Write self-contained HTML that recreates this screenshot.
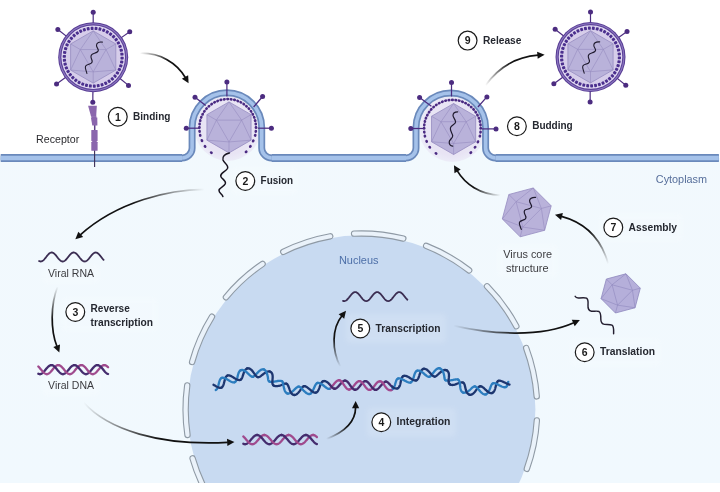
<!DOCTYPE html><html><head><meta charset="utf-8"><style>html,body{margin:0;padding:0;background:#fff;}svg{display:block;will-change:transform;}text{font-family:"Liberation Sans",sans-serif;}</style></head><body><svg width="720" height="492" viewBox="0 0 720 492" font-family="Liberation Sans, sans-serif">
<defs><linearGradient id="cyto" x1="0" y1="0" x2="0" y2="1"><stop offset="0" stop-color="#f2f9fd"/><stop offset="1" stop-color="#f1f9fe"/></linearGradient><radialGradient id="glow"><stop offset="0.8" stop-color="#e8e4f4"/><stop offset="1" stop-color="#e8e4f4" stop-opacity="0.6"/></radialGradient><clipPath id="clipm"><rect x="0.8" y="0" width="718" height="483"/></clipPath><clipPath id="clipb"><rect x="0" y="0" width="720" height="483"/></clipPath></defs>
<rect width="720" height="492" fill="#fff"/>
<path d="M -10,158 H 182.1 A 10 10 0 0 0 192.1,148 V 127.6 A 34.8 34.8 0 0 1 261.7,127.6 V 148 A 10 10 0 0 0 271.7,158 H 406 A 10 10 0 0 0 416,148 V 127.8 A 34.8 34.8 0 0 1 485.6,127.8 V 148 A 10 10 0 0 0 495.6,158 H 730 V 483 H -10 Z" fill="url(#cyto)"/>
<g clip-path="url(#clipb)">
<circle cx="361.4" cy="409.3" r="174" fill="#c8daf1"/>
<path d="M536.85,420.34 A175.8,175.8 0 0 1 526.81,468.85" fill="none" stroke="#8f9aa5" stroke-width="6.4" stroke-linecap="round"/>
<path d="M536.85,420.34 A175.8,175.8 0 0 1 526.81,468.85" fill="none" stroke="#eaf2fa" stroke-width="4.2" stroke-linecap="round"/>
<path d="M526.17,348.02 A175.8,175.8 0 0 1 536.73,396.42" fill="none" stroke="#8f9aa5" stroke-width="6.4" stroke-linecap="round"/>
<path d="M526.17,348.02 A175.8,175.8 0 0 1 536.73,396.42" fill="none" stroke="#eaf2fa" stroke-width="4.2" stroke-linecap="round"/>
<path d="M487,286.3 A175.8,175.8 0 0 1 516.33,326.23" fill="none" stroke="#8f9aa5" stroke-width="6.4" stroke-linecap="round"/>
<path d="M487,286.3 A175.8,175.8 0 0 1 516.33,326.23" fill="none" stroke="#eaf2fa" stroke-width="4.2" stroke-linecap="round"/>
<path d="M426.12,245.85 A175.8,175.8 0 0 1 469.15,270.39" fill="none" stroke="#8f9aa5" stroke-width="6.4" stroke-linecap="round"/>
<path d="M426.12,245.85 A175.8,175.8 0 0 1 469.15,270.39" fill="none" stroke="#eaf2fa" stroke-width="4.2" stroke-linecap="round"/>
<path d="M354.04,233.65 A175.8,175.8 0 0 1 403.33,238.57" fill="none" stroke="#8f9aa5" stroke-width="6.4" stroke-linecap="round"/>
<path d="M354.04,233.65 A175.8,175.8 0 0 1 403.33,238.57" fill="none" stroke="#eaf2fa" stroke-width="4.2" stroke-linecap="round"/>
<path d="M283.23,251.83 A175.8,175.8 0 0 1 330.27,236.28" fill="none" stroke="#8f9aa5" stroke-width="6.4" stroke-linecap="round"/>
<path d="M283.23,251.83 A175.8,175.8 0 0 1 330.27,236.28" fill="none" stroke="#eaf2fa" stroke-width="4.2" stroke-linecap="round"/>
<path d="M225.94,297.24 A175.8,175.8 0 0 1 262.59,263.9" fill="none" stroke="#8f9aa5" stroke-width="6.4" stroke-linecap="round"/>
<path d="M225.94,297.24 A175.8,175.8 0 0 1 262.59,263.9" fill="none" stroke="#eaf2fa" stroke-width="4.2" stroke-linecap="round"/>
<path d="M192.08,362.02 A175.8,175.8 0 0 1 211.99,316.66" fill="none" stroke="#8f9aa5" stroke-width="6.4" stroke-linecap="round"/>
<path d="M192.08,362.02 A175.8,175.8 0 0 1 211.99,316.66" fill="none" stroke="#eaf2fa" stroke-width="4.2" stroke-linecap="round"/>
<path d="M187.49,434.98 A175.8,175.8 0 0 1 187.23,385.44" fill="none" stroke="#8f9aa5" stroke-width="6.4" stroke-linecap="round"/>
<path d="M187.49,434.98 A175.8,175.8 0 0 1 187.23,385.44" fill="none" stroke="#eaf2fa" stroke-width="4.2" stroke-linecap="round"/>
<path d="M212.97,503.5 A175.8,175.8 0 0 1 192.58,458.35" fill="none" stroke="#8f9aa5" stroke-width="6.4" stroke-linecap="round"/>
<path d="M212.97,503.5 A175.8,175.8 0 0 1 192.58,458.35" fill="none" stroke="#eaf2fa" stroke-width="4.2" stroke-linecap="round"/>
</g>
<circle cx="227.8" cy="127.4" r="33.5" fill="url(#glow)"/>
<circle cx="452.4" cy="128.4" r="33.5" fill="url(#glow)"/>
<g clip-path="url(#clipm)">
<path d="M -10,158 H 182.1 A 10 10 0 0 0 192.1,148 V 127.6 A 34.8 34.8 0 0 1 261.7,127.6 V 148 A 10 10 0 0 0 271.7,158 H 406 A 10 10 0 0 0 416,148 V 127.8 A 34.8 34.8 0 0 1 485.6,127.8 V 148 A 10 10 0 0 0 495.6,158 H 730" fill="none" stroke="#6a89bb" stroke-width="7"/>
<path d="M -10,158 H 182.1 A 10 10 0 0 0 192.1,148 V 127.6 A 34.8 34.8 0 0 1 261.7,127.6 V 148 A 10 10 0 0 0 271.7,158 H 406 A 10 10 0 0 0 416,148 V 127.8 A 34.8 34.8 0 0 1 485.6,127.8 V 148 A 10 10 0 0 0 495.6,158 H 730" fill="none" stroke="#a5c2ea" stroke-width="3.6"/>
<path d="M -10,158 H 182.1 M 271.7,158 H 406 M 495.6,158 H 730" fill="none" stroke="#6a89bb" stroke-width="8.2"/>
<path d="M -10,158 H 182.1 M 271.7,158 H 406 M 495.6,158 H 730" fill="none" stroke="#a5c2ea" stroke-width="4.6"/>
</g>
<line x1="94.6" y1="149" x2="94.6" y2="167" stroke="#3a2d55" stroke-width="1.1"/>
<line x1="94.7" y1="125" x2="94.7" y2="131" stroke="#5b3f86" stroke-width="1.5"/>
<g fill="#8a66ad">
<path d="M88.1,105.8 L96.8,105.8 L96.2,116.8 L91.1,116.8 Z"/>
<path d="M90.9,117.6 L97.3,117.6 L97.4,125.6 L92.3,125.6 Z"/>
<rect x="91.6" y="116.3" width="4.8" height="1.8"/>
<rect x="91.3" y="130" width="6.3" height="11" rx="0.6"/>
<rect x="91.3" y="141.7" width="6.3" height="9.1" rx="0.6"/>
<rect x="92.2" y="140.5" width="4.5" height="2.2"/>
</g>
<line x1="93.2" y1="24.3" x2="93.2" y2="12.3" stroke="#4c2c80" stroke-width="1.2"/><circle cx="93.2" cy="12.3" r="2.5" fill="#4c2c80"/><line x1="120.23" y1="38.37" x2="129.73" y2="31.72" stroke="#4c2c80" stroke-width="1.2"/><circle cx="129.73" cy="31.72" r="2.5" fill="#4c2c80"/><line x1="119.03" y1="77.84" x2="128.5" y2="85.38" stroke="#4c2c80" stroke-width="1.2"/><circle cx="128.5" cy="85.38" r="2.5" fill="#4c2c80"/><line x1="92.91" y1="90.3" x2="92.81" y2="102.2" stroke="#4c2c80" stroke-width="1.2"/><circle cx="92.81" cy="102.2" r="2.5" fill="#4c2c80"/><line x1="66.5" y1="76.7" x2="56.55" y2="83.93" stroke="#4c2c80" stroke-width="1.2"/><circle cx="56.55" cy="83.93" r="2.5" fill="#4c2c80"/><line x1="67.27" y1="36.89" x2="57.84" y2="29.47" stroke="#4c2c80" stroke-width="1.2"/><circle cx="57.84" cy="29.47" r="2.5" fill="#4c2c80"/><circle cx="93.2" cy="57.2" r="35" fill="#573b94"/><circle cx="93.2" cy="57.2" r="34" fill="#8c78c0"/><circle cx="93.2" cy="57.2" r="32.9" fill="#5c4198"/><circle cx="93.2" cy="57.2" r="31.8" fill="#e2daf3"/><circle cx="93.2" cy="57.2" r="30.4" fill="#d6cdea"/><rect x="120.49" y="56.67" width="3.2" height="2.8" rx="0.7" fill="#4b2f8e" transform="rotate(1.72 122.09 58.07)"/><rect x="120.1" y="60.59" width="3.2" height="2.8" rx="0.7" fill="#4b2f8e" transform="rotate(9.54 121.7 61.99)"/><rect x="119.18" y="64.43" width="3.2" height="2.8" rx="0.7" fill="#4b2f8e" transform="rotate(17.37 120.78 65.83)"/><rect x="117.75" y="68.1" width="3.2" height="2.8" rx="0.7" fill="#4b2f8e" transform="rotate(25.2 119.35 69.5)"/><rect x="115.83" y="71.55" width="3.2" height="2.8" rx="0.7" fill="#4b2f8e" transform="rotate(33.02 117.43 72.95)"/><rect x="113.46" y="74.7" width="3.2" height="2.8" rx="0.7" fill="#4b2f8e" transform="rotate(40.85 115.06 76.1)"/><rect x="110.68" y="77.5" width="3.2" height="2.8" rx="0.7" fill="#4b2f8e" transform="rotate(48.68 112.28 78.9)"/><rect x="107.55" y="79.9" width="3.2" height="2.8" rx="0.7" fill="#4b2f8e" transform="rotate(56.5 109.15 81.3)"/><rect x="104.12" y="81.85" width="3.2" height="2.8" rx="0.7" fill="#4b2f8e" transform="rotate(64.33 105.72 83.25)"/><rect x="100.46" y="83.31" width="3.2" height="2.8" rx="0.7" fill="#4b2f8e" transform="rotate(72.15 102.06 84.71)"/><rect x="96.63" y="84.26" width="3.2" height="2.8" rx="0.7" fill="#4b2f8e" transform="rotate(79.98 98.23 85.66)"/><rect x="92.71" y="84.68" width="3.2" height="2.8" rx="0.7" fill="#4b2f8e" transform="rotate(87.81 94.31 86.08)"/><rect x="88.76" y="84.56" width="3.2" height="2.8" rx="0.7" fill="#4b2f8e" transform="rotate(95.63 90.36 85.96)"/><rect x="84.87" y="83.91" width="3.2" height="2.8" rx="0.7" fill="#4b2f8e" transform="rotate(103.46 86.47 85.31)"/><rect x="81.11" y="82.73" width="3.2" height="2.8" rx="0.7" fill="#4b2f8e" transform="rotate(111.28 82.71 84.13)"/><rect x="77.54" y="81.05" width="3.2" height="2.8" rx="0.7" fill="#4b2f8e" transform="rotate(119.11 79.14 82.45)"/><rect x="74.23" y="78.9" width="3.2" height="2.8" rx="0.7" fill="#4b2f8e" transform="rotate(126.94 75.83 80.3)"/><rect x="71.25" y="76.32" width="3.2" height="2.8" rx="0.7" fill="#4b2f8e" transform="rotate(134.76 72.85 77.72)"/><rect x="68.64" y="73.36" width="3.2" height="2.8" rx="0.7" fill="#4b2f8e" transform="rotate(142.59 70.24 74.76)"/><rect x="66.47" y="70.07" width="3.2" height="2.8" rx="0.7" fill="#4b2f8e" transform="rotate(150.41 68.07 71.47)"/><rect x="64.76" y="66.51" width="3.2" height="2.8" rx="0.7" fill="#4b2f8e" transform="rotate(158.24 66.36 67.91)"/><rect x="63.55" y="62.76" width="3.2" height="2.8" rx="0.7" fill="#4b2f8e" transform="rotate(166.07 65.15 64.16)"/><rect x="62.86" y="58.87" width="3.2" height="2.8" rx="0.7" fill="#4b2f8e" transform="rotate(173.89 64.46 60.27)"/><rect x="62.71" y="54.93" width="3.2" height="2.8" rx="0.7" fill="#4b2f8e" transform="rotate(181.72 64.31 56.33)"/><rect x="63.1" y="51.01" width="3.2" height="2.8" rx="0.7" fill="#4b2f8e" transform="rotate(189.54 64.7 52.41)"/><rect x="64.02" y="47.17" width="3.2" height="2.8" rx="0.7" fill="#4b2f8e" transform="rotate(197.37 65.62 48.57)"/><rect x="65.45" y="43.5" width="3.2" height="2.8" rx="0.7" fill="#4b2f8e" transform="rotate(205.2 67.05 44.9)"/><rect x="67.37" y="40.05" width="3.2" height="2.8" rx="0.7" fill="#4b2f8e" transform="rotate(213.02 68.97 41.45)"/><rect x="69.74" y="36.9" width="3.2" height="2.8" rx="0.7" fill="#4b2f8e" transform="rotate(220.85 71.34 38.3)"/><rect x="72.52" y="34.1" width="3.2" height="2.8" rx="0.7" fill="#4b2f8e" transform="rotate(228.68 74.12 35.5)"/><rect x="75.65" y="31.7" width="3.2" height="2.8" rx="0.7" fill="#4b2f8e" transform="rotate(236.5 77.25 33.1)"/><rect x="79.08" y="29.75" width="3.2" height="2.8" rx="0.7" fill="#4b2f8e" transform="rotate(244.33 80.68 31.15)"/><rect x="82.74" y="28.29" width="3.2" height="2.8" rx="0.7" fill="#4b2f8e" transform="rotate(252.15 84.34 29.69)"/><rect x="86.57" y="27.34" width="3.2" height="2.8" rx="0.7" fill="#4b2f8e" transform="rotate(259.98 88.17 28.74)"/><rect x="90.49" y="26.92" width="3.2" height="2.8" rx="0.7" fill="#4b2f8e" transform="rotate(267.81 92.09 28.32)"/><rect x="94.44" y="27.04" width="3.2" height="2.8" rx="0.7" fill="#4b2f8e" transform="rotate(275.63 96.04 28.44)"/><rect x="98.33" y="27.69" width="3.2" height="2.8" rx="0.7" fill="#4b2f8e" transform="rotate(283.46 99.93 29.09)"/><rect x="102.09" y="28.87" width="3.2" height="2.8" rx="0.7" fill="#4b2f8e" transform="rotate(291.28 103.69 30.27)"/><rect x="105.66" y="30.55" width="3.2" height="2.8" rx="0.7" fill="#4b2f8e" transform="rotate(299.11 107.26 31.95)"/><rect x="108.97" y="32.7" width="3.2" height="2.8" rx="0.7" fill="#4b2f8e" transform="rotate(306.94 110.57 34.1)"/><rect x="111.95" y="35.28" width="3.2" height="2.8" rx="0.7" fill="#4b2f8e" transform="rotate(314.76 113.55 36.68)"/><rect x="114.56" y="38.24" width="3.2" height="2.8" rx="0.7" fill="#4b2f8e" transform="rotate(322.59 116.16 39.64)"/><rect x="116.73" y="41.53" width="3.2" height="2.8" rx="0.7" fill="#4b2f8e" transform="rotate(330.41 118.33 42.93)"/><rect x="118.44" y="45.09" width="3.2" height="2.8" rx="0.7" fill="#4b2f8e" transform="rotate(338.24 120.04 46.49)"/><rect x="119.65" y="48.84" width="3.2" height="2.8" rx="0.7" fill="#4b2f8e" transform="rotate(346.07 121.25 50.24)"/><rect x="120.34" y="52.73" width="3.2" height="2.8" rx="0.7" fill="#4b2f8e" transform="rotate(353.89 121.94 54.13)"/><polygon points="93.2,30.9 115.8,43.95 115.8,70.05 93.2,83.1 70.6,70.05 70.6,43.95" fill="#b9b2da" stroke="#968bc0" stroke-width="0.8" stroke-linejoin="round"/><path d="M106.08,49.56 L93.2,71.88 L80.32,49.56 Z M106.08,49.56 L93.2,30.9 M106.08,49.56 L115.8,43.95 M106.08,49.56 L115.8,70.05 M93.2,71.88 L115.8,70.05 M93.2,71.88 L93.2,83.1 M93.2,71.88 L70.6,70.05 M80.32,49.56 L70.6,70.05 M80.32,49.56 L70.6,43.95 M80.32,49.56 L93.2,30.9 " fill="none" stroke="#968bc0" stroke-width="0.6"/><path transform="translate(93.2,57.2) rotate(0)" d="M9.2,-15.1 C6.3,-15.4 3.6,-14.4 3.3,-11.9 C3.1,-9.7 5.4,-8.4 5.1,-6.6 C4.8,-4.6 1.3,-4.2 -0.6,-3.3 C-2.4,-2.4 -2.4,0 -1.7,1.8 C-1,3.6 0,4.8 -2.2,6.2 C-3.7,7.2 -6.7,7.1 -7.7,9 C-8.5,10.8 -6.9,13.3 -6.3,16.2" fill="none" stroke="#1f1a2e" stroke-width="1.1" stroke-linecap="round"/>
<line x1="590.5" y1="24.1" x2="590.5" y2="12.1" stroke="#4c2c80" stroke-width="1.2"/><circle cx="590.5" cy="12.1" r="2.5" fill="#4c2c80"/><line x1="617.53" y1="38.17" x2="627.03" y2="31.52" stroke="#4c2c80" stroke-width="1.2"/><circle cx="627.03" cy="31.52" r="2.5" fill="#4c2c80"/><line x1="616.33" y1="77.64" x2="625.8" y2="85.18" stroke="#4c2c80" stroke-width="1.2"/><circle cx="625.8" cy="85.18" r="2.5" fill="#4c2c80"/><line x1="590.21" y1="90.1" x2="590.11" y2="102" stroke="#4c2c80" stroke-width="1.2"/><circle cx="590.11" cy="102" r="2.5" fill="#4c2c80"/><line x1="563.8" y1="76.5" x2="553.85" y2="83.73" stroke="#4c2c80" stroke-width="1.2"/><circle cx="553.85" cy="83.73" r="2.5" fill="#4c2c80"/><line x1="564.57" y1="36.69" x2="555.14" y2="29.27" stroke="#4c2c80" stroke-width="1.2"/><circle cx="555.14" cy="29.27" r="2.5" fill="#4c2c80"/><circle cx="590.5" cy="57" r="35" fill="#573b94"/><circle cx="590.5" cy="57" r="34" fill="#8c78c0"/><circle cx="590.5" cy="57" r="32.9" fill="#5c4198"/><circle cx="590.5" cy="57" r="31.8" fill="#e2daf3"/><circle cx="590.5" cy="57" r="30.4" fill="#d6cdea"/><rect x="617.79" y="56.47" width="3.2" height="2.8" rx="0.7" fill="#4b2f8e" transform="rotate(1.72 619.39 57.87)"/><rect x="617.4" y="60.39" width="3.2" height="2.8" rx="0.7" fill="#4b2f8e" transform="rotate(9.54 619 61.79)"/><rect x="616.48" y="64.23" width="3.2" height="2.8" rx="0.7" fill="#4b2f8e" transform="rotate(17.37 618.08 65.63)"/><rect x="615.05" y="67.9" width="3.2" height="2.8" rx="0.7" fill="#4b2f8e" transform="rotate(25.2 616.65 69.3)"/><rect x="613.13" y="71.35" width="3.2" height="2.8" rx="0.7" fill="#4b2f8e" transform="rotate(33.02 614.73 72.75)"/><rect x="610.76" y="74.5" width="3.2" height="2.8" rx="0.7" fill="#4b2f8e" transform="rotate(40.85 612.36 75.9)"/><rect x="607.98" y="77.3" width="3.2" height="2.8" rx="0.7" fill="#4b2f8e" transform="rotate(48.68 609.58 78.7)"/><rect x="604.85" y="79.7" width="3.2" height="2.8" rx="0.7" fill="#4b2f8e" transform="rotate(56.5 606.45 81.1)"/><rect x="601.42" y="81.65" width="3.2" height="2.8" rx="0.7" fill="#4b2f8e" transform="rotate(64.33 603.02 83.05)"/><rect x="597.76" y="83.11" width="3.2" height="2.8" rx="0.7" fill="#4b2f8e" transform="rotate(72.15 599.36 84.51)"/><rect x="593.93" y="84.06" width="3.2" height="2.8" rx="0.7" fill="#4b2f8e" transform="rotate(79.98 595.53 85.46)"/><rect x="590.01" y="84.48" width="3.2" height="2.8" rx="0.7" fill="#4b2f8e" transform="rotate(87.81 591.61 85.88)"/><rect x="586.06" y="84.36" width="3.2" height="2.8" rx="0.7" fill="#4b2f8e" transform="rotate(95.63 587.66 85.76)"/><rect x="582.17" y="83.71" width="3.2" height="2.8" rx="0.7" fill="#4b2f8e" transform="rotate(103.46 583.77 85.11)"/><rect x="578.41" y="82.53" width="3.2" height="2.8" rx="0.7" fill="#4b2f8e" transform="rotate(111.28 580.01 83.93)"/><rect x="574.84" y="80.85" width="3.2" height="2.8" rx="0.7" fill="#4b2f8e" transform="rotate(119.11 576.44 82.25)"/><rect x="571.53" y="78.7" width="3.2" height="2.8" rx="0.7" fill="#4b2f8e" transform="rotate(126.94 573.13 80.1)"/><rect x="568.55" y="76.12" width="3.2" height="2.8" rx="0.7" fill="#4b2f8e" transform="rotate(134.76 570.15 77.52)"/><rect x="565.94" y="73.16" width="3.2" height="2.8" rx="0.7" fill="#4b2f8e" transform="rotate(142.59 567.54 74.56)"/><rect x="563.77" y="69.87" width="3.2" height="2.8" rx="0.7" fill="#4b2f8e" transform="rotate(150.41 565.37 71.27)"/><rect x="562.06" y="66.31" width="3.2" height="2.8" rx="0.7" fill="#4b2f8e" transform="rotate(158.24 563.66 67.71)"/><rect x="560.85" y="62.56" width="3.2" height="2.8" rx="0.7" fill="#4b2f8e" transform="rotate(166.07 562.45 63.96)"/><rect x="560.16" y="58.67" width="3.2" height="2.8" rx="0.7" fill="#4b2f8e" transform="rotate(173.89 561.76 60.07)"/><rect x="560.01" y="54.73" width="3.2" height="2.8" rx="0.7" fill="#4b2f8e" transform="rotate(181.72 561.61 56.13)"/><rect x="560.4" y="50.81" width="3.2" height="2.8" rx="0.7" fill="#4b2f8e" transform="rotate(189.54 562 52.21)"/><rect x="561.32" y="46.97" width="3.2" height="2.8" rx="0.7" fill="#4b2f8e" transform="rotate(197.37 562.92 48.37)"/><rect x="562.75" y="43.3" width="3.2" height="2.8" rx="0.7" fill="#4b2f8e" transform="rotate(205.2 564.35 44.7)"/><rect x="564.67" y="39.85" width="3.2" height="2.8" rx="0.7" fill="#4b2f8e" transform="rotate(213.02 566.27 41.25)"/><rect x="567.04" y="36.7" width="3.2" height="2.8" rx="0.7" fill="#4b2f8e" transform="rotate(220.85 568.64 38.1)"/><rect x="569.82" y="33.9" width="3.2" height="2.8" rx="0.7" fill="#4b2f8e" transform="rotate(228.68 571.42 35.3)"/><rect x="572.95" y="31.5" width="3.2" height="2.8" rx="0.7" fill="#4b2f8e" transform="rotate(236.5 574.55 32.9)"/><rect x="576.38" y="29.55" width="3.2" height="2.8" rx="0.7" fill="#4b2f8e" transform="rotate(244.33 577.98 30.95)"/><rect x="580.04" y="28.09" width="3.2" height="2.8" rx="0.7" fill="#4b2f8e" transform="rotate(252.15 581.64 29.49)"/><rect x="583.87" y="27.14" width="3.2" height="2.8" rx="0.7" fill="#4b2f8e" transform="rotate(259.98 585.47 28.54)"/><rect x="587.79" y="26.72" width="3.2" height="2.8" rx="0.7" fill="#4b2f8e" transform="rotate(267.81 589.39 28.12)"/><rect x="591.74" y="26.84" width="3.2" height="2.8" rx="0.7" fill="#4b2f8e" transform="rotate(275.63 593.34 28.24)"/><rect x="595.63" y="27.49" width="3.2" height="2.8" rx="0.7" fill="#4b2f8e" transform="rotate(283.46 597.23 28.89)"/><rect x="599.39" y="28.67" width="3.2" height="2.8" rx="0.7" fill="#4b2f8e" transform="rotate(291.28 600.99 30.07)"/><rect x="602.96" y="30.35" width="3.2" height="2.8" rx="0.7" fill="#4b2f8e" transform="rotate(299.11 604.56 31.75)"/><rect x="606.27" y="32.5" width="3.2" height="2.8" rx="0.7" fill="#4b2f8e" transform="rotate(306.94 607.87 33.9)"/><rect x="609.25" y="35.08" width="3.2" height="2.8" rx="0.7" fill="#4b2f8e" transform="rotate(314.76 610.85 36.48)"/><rect x="611.86" y="38.04" width="3.2" height="2.8" rx="0.7" fill="#4b2f8e" transform="rotate(322.59 613.46 39.44)"/><rect x="614.03" y="41.33" width="3.2" height="2.8" rx="0.7" fill="#4b2f8e" transform="rotate(330.41 615.63 42.73)"/><rect x="615.74" y="44.89" width="3.2" height="2.8" rx="0.7" fill="#4b2f8e" transform="rotate(338.24 617.34 46.29)"/><rect x="616.95" y="48.64" width="3.2" height="2.8" rx="0.7" fill="#4b2f8e" transform="rotate(346.07 618.55 50.04)"/><rect x="617.64" y="52.53" width="3.2" height="2.8" rx="0.7" fill="#4b2f8e" transform="rotate(353.89 619.24 53.93)"/><polygon points="590.5,30.7 613.1,43.75 613.1,69.85 590.5,82.9 567.9,69.85 567.9,43.75" fill="#b9b2da" stroke="#968bc0" stroke-width="0.8" stroke-linejoin="round"/><path d="M603.38,49.36 L590.5,71.68 L577.62,49.36 Z M603.38,49.36 L590.5,30.7 M603.38,49.36 L613.1,43.75 M603.38,49.36 L613.1,69.85 M590.5,71.68 L613.1,69.85 M590.5,71.68 L590.5,82.9 M590.5,71.68 L567.9,69.85 M577.62,49.36 L567.9,69.85 M577.62,49.36 L567.9,43.75 M577.62,49.36 L590.5,30.7 " fill="none" stroke="#968bc0" stroke-width="0.6"/><path transform="translate(590.5,57) rotate(0)" d="M9.2,-15.1 C6.3,-15.4 3.6,-14.4 3.3,-11.9 C3.1,-9.7 5.4,-8.4 5.1,-6.6 C4.8,-4.6 1.3,-4.2 -0.6,-3.3 C-2.4,-2.4 -2.4,0 -1.7,1.8 C-1,3.6 0,4.8 -2.2,6.2 C-3.7,7.2 -6.7,7.1 -7.7,9 C-8.5,10.8 -6.9,13.3 -6.3,16.2" fill="none" stroke="#1f1a2e" stroke-width="1.1" stroke-linecap="round"/>
<line x1="226.9" y1="96.5" x2="226.9" y2="81.9" stroke="#4c2c80" stroke-width="1.25"/><circle cx="226.9" cy="81.9" r="2.5" fill="#4c2c80"/><line x1="205.7" y1="105.6" x2="195" y2="97.2" stroke="#4c2c80" stroke-width="1.25"/><circle cx="195" cy="97.2" r="2.5" fill="#4c2c80"/><line x1="253.6" y1="107" x2="262.6" y2="96.5" stroke="#4c2c80" stroke-width="1.25"/><circle cx="262.6" cy="96.5" r="2.5" fill="#4c2c80"/><line x1="199.4" y1="128.2" x2="186.25" y2="128.2" stroke="#4c2c80" stroke-width="1.25"/><circle cx="186.25" cy="128.2" r="2.5" fill="#4c2c80"/><line x1="257.8" y1="128.2" x2="271.4" y2="128.2" stroke="#4c2c80" stroke-width="1.25"/><circle cx="271.4" cy="128.2" r="2.5" fill="#4c2c80"/><ellipse cx="199.4" cy="127.4" rx="1.6" ry="1.35" fill="#4a2a82" transform="rotate(-90 199.4 127.4)"/><ellipse cx="199.61" cy="123.99" rx="1.6" ry="1.35" fill="#4a2a82" transform="rotate(-83.08 199.61 123.99)"/><ellipse cx="200.22" cy="120.63" rx="1.6" ry="1.35" fill="#4a2a82" transform="rotate(-76.15 200.22 120.63)"/><ellipse cx="201.24" cy="117.36" rx="1.6" ry="1.35" fill="#4a2a82" transform="rotate(-69.23 201.24 117.36)"/><ellipse cx="202.64" cy="114.25" rx="1.6" ry="1.35" fill="#4a2a82" transform="rotate(-62.31 202.64 114.25)"/><ellipse cx="204.41" cy="111.32" rx="1.6" ry="1.35" fill="#4a2a82" transform="rotate(-55.38 204.41 111.32)"/><ellipse cx="206.52" cy="108.63" rx="1.6" ry="1.35" fill="#4a2a82" transform="rotate(-48.46 206.52 108.63)"/><ellipse cx="208.93" cy="106.22" rx="1.6" ry="1.35" fill="#4a2a82" transform="rotate(-41.54 208.93 106.22)"/><ellipse cx="211.62" cy="104.11" rx="1.6" ry="1.35" fill="#4a2a82" transform="rotate(-34.62 211.62 104.11)"/><ellipse cx="214.55" cy="102.34" rx="1.6" ry="1.35" fill="#4a2a82" transform="rotate(-27.69 214.55 102.34)"/><ellipse cx="217.66" cy="100.94" rx="1.6" ry="1.35" fill="#4a2a82" transform="rotate(-20.77 217.66 100.94)"/><ellipse cx="220.93" cy="99.92" rx="1.6" ry="1.35" fill="#4a2a82" transform="rotate(-13.85 220.93 99.92)"/><ellipse cx="224.29" cy="99.31" rx="1.6" ry="1.35" fill="#4a2a82" transform="rotate(-6.92 224.29 99.31)"/><ellipse cx="227.7" cy="99.1" rx="1.6" ry="1.35" fill="#4a2a82" transform="rotate(0 227.7 99.1)"/><ellipse cx="231.11" cy="99.31" rx="1.6" ry="1.35" fill="#4a2a82" transform="rotate(6.92 231.11 99.31)"/><ellipse cx="234.47" cy="99.92" rx="1.6" ry="1.35" fill="#4a2a82" transform="rotate(13.85 234.47 99.92)"/><ellipse cx="237.74" cy="100.94" rx="1.6" ry="1.35" fill="#4a2a82" transform="rotate(20.77 237.74 100.94)"/><ellipse cx="240.85" cy="102.34" rx="1.6" ry="1.35" fill="#4a2a82" transform="rotate(27.69 240.85 102.34)"/><ellipse cx="243.78" cy="104.11" rx="1.6" ry="1.35" fill="#4a2a82" transform="rotate(34.62 243.78 104.11)"/><ellipse cx="246.47" cy="106.22" rx="1.6" ry="1.35" fill="#4a2a82" transform="rotate(41.54 246.47 106.22)"/><ellipse cx="248.88" cy="108.63" rx="1.6" ry="1.35" fill="#4a2a82" transform="rotate(48.46 248.88 108.63)"/><ellipse cx="250.99" cy="111.32" rx="1.6" ry="1.35" fill="#4a2a82" transform="rotate(55.38 250.99 111.32)"/><ellipse cx="252.76" cy="114.25" rx="1.6" ry="1.35" fill="#4a2a82" transform="rotate(62.31 252.76 114.25)"/><ellipse cx="254.16" cy="117.36" rx="1.6" ry="1.35" fill="#4a2a82" transform="rotate(69.23 254.16 117.36)"/><ellipse cx="255.18" cy="120.63" rx="1.6" ry="1.35" fill="#4a2a82" transform="rotate(76.15 255.18 120.63)"/><ellipse cx="255.79" cy="123.99" rx="1.6" ry="1.35" fill="#4a2a82" transform="rotate(83.08 255.79 123.99)"/><ellipse cx="256" cy="127.4" rx="1.6" ry="1.35" fill="#4a2a82" transform="rotate(90 256 127.4)"/><ellipse cx="255.82" cy="131.35" rx="1.6" ry="1.35" fill="#4a2a82" transform="rotate(98 255.82 131.35)"/><ellipse cx="255.19" cy="135.28" rx="1.6" ry="1.35" fill="#4a2a82" transform="rotate(106 255.19 135.28)"/><ellipse cx="253.22" cy="140.97" rx="1.6" ry="1.35" fill="#4a2a82" transform="rotate(118 253.22 140.97)"/><ellipse cx="250.37" cy="146.43" rx="1.6" ry="1.35" fill="#4a2a82" transform="rotate(130 250.37 146.43)"/><ellipse cx="246.12" cy="151.84" rx="1.6" ry="1.35" fill="#4a2a82" transform="rotate(143 246.12 151.84)"/><ellipse cx="199.58" cy="131.35" rx="1.6" ry="1.35" fill="#4a2a82" transform="rotate(262 199.58 131.35)"/><ellipse cx="200.21" cy="135.28" rx="1.6" ry="1.35" fill="#4a2a82" transform="rotate(254 200.21 135.28)"/><ellipse cx="201.95" cy="140.52" rx="1.6" ry="1.35" fill="#4a2a82" transform="rotate(243 201.95 140.52)"/><ellipse cx="205.03" cy="146.43" rx="1.6" ry="1.35" fill="#4a2a82" transform="rotate(230 205.03 146.43)"/><ellipse cx="211.31" cy="152.64" rx="1.6" ry="1.35" fill="#4a2a82" transform="rotate(213 211.31 152.64)"/><polygon points="229,101.9 251.08,114.65 251.08,140.15 229,152.9 206.92,140.15 206.92,114.65" fill="#b9b2da" stroke="#968bc0" stroke-width="0.8" stroke-linejoin="round"/><path d="M241.59,120.13 L229,141.94 L216.41,120.13 Z M241.59,120.13 L229,101.9 M241.59,120.13 L251.08,114.65 M241.59,120.13 L251.08,140.15 M229,141.94 L251.08,140.15 M229,141.94 L229,152.9 M229,141.94 L206.92,140.15 M216.41,120.13 L206.92,140.15 M216.41,120.13 L206.92,114.65 M216.41,120.13 L229,101.9 " fill="none" stroke="#968bc0" stroke-width="0.6"/>
<line x1="451.5" y1="96.5" x2="451.5" y2="82.6" stroke="#4c2c80" stroke-width="1.25"/><circle cx="451.5" cy="82.6" r="2.5" fill="#4c2c80"/><line x1="431.4" y1="106.25" x2="419.6" y2="97.5" stroke="#4c2c80" stroke-width="1.25"/><circle cx="419.6" cy="97.5" r="2.5" fill="#4c2c80"/><line x1="477.9" y1="107" x2="486.9" y2="96.9" stroke="#4c2c80" stroke-width="1.25"/><circle cx="486.9" cy="96.9" r="2.5" fill="#4c2c80"/><line x1="423.75" y1="128.5" x2="410.8" y2="128.5" stroke="#4c2c80" stroke-width="1.25"/><circle cx="410.8" cy="128.5" r="2.5" fill="#4c2c80"/><line x1="482.1" y1="128.9" x2="496" y2="128.9" stroke="#4c2c80" stroke-width="1.25"/><circle cx="496" cy="128.9" r="2.5" fill="#4c2c80"/><ellipse cx="424.1" cy="128.2" rx="1.6" ry="1.35" fill="#4a2a82" transform="rotate(-90 424.1 128.2)"/><ellipse cx="424.31" cy="124.79" rx="1.6" ry="1.35" fill="#4a2a82" transform="rotate(-83.08 424.31 124.79)"/><ellipse cx="424.92" cy="121.43" rx="1.6" ry="1.35" fill="#4a2a82" transform="rotate(-76.15 424.92 121.43)"/><ellipse cx="425.94" cy="118.16" rx="1.6" ry="1.35" fill="#4a2a82" transform="rotate(-69.23 425.94 118.16)"/><ellipse cx="427.34" cy="115.05" rx="1.6" ry="1.35" fill="#4a2a82" transform="rotate(-62.31 427.34 115.05)"/><ellipse cx="429.11" cy="112.12" rx="1.6" ry="1.35" fill="#4a2a82" transform="rotate(-55.38 429.11 112.12)"/><ellipse cx="431.22" cy="109.43" rx="1.6" ry="1.35" fill="#4a2a82" transform="rotate(-48.46 431.22 109.43)"/><ellipse cx="433.63" cy="107.02" rx="1.6" ry="1.35" fill="#4a2a82" transform="rotate(-41.54 433.63 107.02)"/><ellipse cx="436.32" cy="104.91" rx="1.6" ry="1.35" fill="#4a2a82" transform="rotate(-34.62 436.32 104.91)"/><ellipse cx="439.25" cy="103.14" rx="1.6" ry="1.35" fill="#4a2a82" transform="rotate(-27.69 439.25 103.14)"/><ellipse cx="442.36" cy="101.74" rx="1.6" ry="1.35" fill="#4a2a82" transform="rotate(-20.77 442.36 101.74)"/><ellipse cx="445.63" cy="100.72" rx="1.6" ry="1.35" fill="#4a2a82" transform="rotate(-13.85 445.63 100.72)"/><ellipse cx="448.99" cy="100.11" rx="1.6" ry="1.35" fill="#4a2a82" transform="rotate(-6.92 448.99 100.11)"/><ellipse cx="452.4" cy="99.9" rx="1.6" ry="1.35" fill="#4a2a82" transform="rotate(0 452.4 99.9)"/><ellipse cx="455.81" cy="100.11" rx="1.6" ry="1.35" fill="#4a2a82" transform="rotate(6.92 455.81 100.11)"/><ellipse cx="459.17" cy="100.72" rx="1.6" ry="1.35" fill="#4a2a82" transform="rotate(13.85 459.17 100.72)"/><ellipse cx="462.44" cy="101.74" rx="1.6" ry="1.35" fill="#4a2a82" transform="rotate(20.77 462.44 101.74)"/><ellipse cx="465.55" cy="103.14" rx="1.6" ry="1.35" fill="#4a2a82" transform="rotate(27.69 465.55 103.14)"/><ellipse cx="468.48" cy="104.91" rx="1.6" ry="1.35" fill="#4a2a82" transform="rotate(34.62 468.48 104.91)"/><ellipse cx="471.17" cy="107.02" rx="1.6" ry="1.35" fill="#4a2a82" transform="rotate(41.54 471.17 107.02)"/><ellipse cx="473.58" cy="109.43" rx="1.6" ry="1.35" fill="#4a2a82" transform="rotate(48.46 473.58 109.43)"/><ellipse cx="475.69" cy="112.12" rx="1.6" ry="1.35" fill="#4a2a82" transform="rotate(55.38 475.69 112.12)"/><ellipse cx="477.46" cy="115.05" rx="1.6" ry="1.35" fill="#4a2a82" transform="rotate(62.31 477.46 115.05)"/><ellipse cx="478.86" cy="118.16" rx="1.6" ry="1.35" fill="#4a2a82" transform="rotate(69.23 478.86 118.16)"/><ellipse cx="479.88" cy="121.43" rx="1.6" ry="1.35" fill="#4a2a82" transform="rotate(76.15 479.88 121.43)"/><ellipse cx="480.49" cy="124.79" rx="1.6" ry="1.35" fill="#4a2a82" transform="rotate(83.08 480.49 124.79)"/><ellipse cx="480.7" cy="128.2" rx="1.6" ry="1.35" fill="#4a2a82" transform="rotate(90 480.7 128.2)"/><ellipse cx="480.52" cy="132.15" rx="1.6" ry="1.35" fill="#4a2a82" transform="rotate(98 480.52 132.15)"/><ellipse cx="479.89" cy="136.08" rx="1.6" ry="1.35" fill="#4a2a82" transform="rotate(106 479.89 136.08)"/><ellipse cx="477.92" cy="141.77" rx="1.6" ry="1.35" fill="#4a2a82" transform="rotate(118 477.92 141.77)"/><ellipse cx="475.07" cy="147.23" rx="1.6" ry="1.35" fill="#4a2a82" transform="rotate(130 475.07 147.23)"/><ellipse cx="470.82" cy="152.64" rx="1.6" ry="1.35" fill="#4a2a82" transform="rotate(143 470.82 152.64)"/><ellipse cx="424.28" cy="132.15" rx="1.6" ry="1.35" fill="#4a2a82" transform="rotate(262 424.28 132.15)"/><ellipse cx="424.91" cy="136.08" rx="1.6" ry="1.35" fill="#4a2a82" transform="rotate(254 424.91 136.08)"/><ellipse cx="426.65" cy="141.32" rx="1.6" ry="1.35" fill="#4a2a82" transform="rotate(243 426.65 141.32)"/><ellipse cx="429.73" cy="147.23" rx="1.6" ry="1.35" fill="#4a2a82" transform="rotate(230 429.73 147.23)"/><ellipse cx="436.01" cy="153.44" rx="1.6" ry="1.35" fill="#4a2a82" transform="rotate(213 436.01 153.44)"/><polygon points="453.6,103.5 475.68,116.25 475.68,141.75 453.6,154.5 431.52,141.75 431.52,116.25" fill="#b9b2da" stroke="#968bc0" stroke-width="0.8" stroke-linejoin="round"/><path d="M466.19,121.73 L453.6,143.53 L441.01,121.73 Z M466.19,121.73 L453.6,103.5 M466.19,121.73 L475.68,116.25 M466.19,121.73 L475.68,141.75 M453.6,143.53 L475.68,141.75 M453.6,143.53 L453.6,154.5 M453.6,143.53 L431.52,141.75 M441.01,121.73 L431.52,141.75 M441.01,121.73 L431.52,116.25 M441.01,121.73 L453.6,103.5 " fill="none" stroke="#968bc0" stroke-width="0.6"/>
<path d="M229.4,153 C225,154 222,156.5 223,160 C224,163 229,165 227.5,168.5 C226,171.5 220.5,172.5 220.7,176 C221,179 226.5,180 225.3,183.8 C224,187 219,187.5 219,190.5 C219,193 222,194 222.9,196.5" fill="none" stroke="#17131f" stroke-width="1.5" stroke-linecap="round"/>
<path d="M457.7,111.8 C455.5,111.8 453,113 453,115.6 C453,117.5 455.6,119.5 455.6,122 C455.6,124.5 451,125 450.4,128 C449.8,131 452.7,133.5 452.7,136 C452.7,138.5 449.2,139.5 449.2,142 C449.2,144.5 451,146 452.7,146.2" fill="none" stroke="#1f1a2e" stroke-width="1.2" stroke-linecap="round"/>
<polygon points="533.3,187.96 551.19,205.85 544.64,230.29 520.2,236.84 502.31,218.95 508.86,194.51" fill="#b9b2da" stroke="#968bc0" stroke-width="0.8" stroke-linejoin="round"/><path d="M541.41,208.47 L522.82,227.06 L516.02,201.67 Z M541.41,208.47 L533.3,187.96 M541.41,208.47 L551.19,205.85 M541.41,208.47 L544.64,230.29 M522.82,227.06 L544.64,230.29 M522.82,227.06 L520.2,236.84 M522.82,227.06 L502.31,218.95 M516.02,201.67 L502.31,218.95 M516.02,201.67 L508.86,194.51 M516.02,201.67 L533.3,187.96 " fill="none" stroke="#968bc0" stroke-width="0.6"/>
<path d="M535.6,197.3 C533,197.2 530,198 529.6,200.5 C529.3,203 531.8,204.5 531.6,206.5 C531.4,208.8 527.5,209 525.5,209.8 C523.8,210.6 524.2,213 525,214.8 C525.8,216.5 527,217.8 525,219.2 C523.5,220.2 520.5,220.3 519.5,222.2 C518.7,224 520.3,226 521.3,229.4" fill="none" stroke="#1f1a2e" stroke-width="1.2" stroke-linecap="round"/>
<polygon points="625.95,273.79 640.31,288.15 635.05,307.75 615.45,313.01 601.09,298.65 606.35,279.05" fill="#b5afda" stroke="#8e88be" stroke-width="0.8" stroke-linejoin="round"/><path d="M632.46,290.25 L617.55,305.16 L612.09,284.79 Z M632.46,290.25 L625.95,273.79 M632.46,290.25 L640.31,288.15 M632.46,290.25 L635.05,307.75 M617.55,305.16 L635.05,307.75 M617.55,305.16 L615.45,313.01 M617.55,305.16 L601.09,298.65 M612.09,284.79 L601.09,298.65 M612.09,284.79 L606.35,279.05 M612.09,284.79 L625.95,273.79 " fill="none" stroke="#8e88be" stroke-width="0.6"/>
<path d="M575.1,296.3 C575.8,297.8 577,298.2 579,298 C581.5,297.7 584.5,297.2 586.5,298.2 C588.5,299.5 588.2,302.5 588,305 C587.8,308 588.5,310.8 591.5,311.2 C594,311.5 597,310.6 599,311.5 C601,312.8 600.8,316 600.8,319 C600.8,322 601.5,324 604.5,324.4 C607,324.7 610,324.2 612,325.2 C614,326.4 613.8,329 613.6,333.7" fill="none" stroke="#241f30" stroke-width="1.45" stroke-linecap="round"/>
<path d="M39.1,261.04 L39.6,261.28 L40.09,261.43 L40.59,261.5 L41.08,261.47 L41.58,261.36 L42.08,261.16 L42.57,260.87 L43.07,260.51 L43.57,260.08 L44.06,259.58 L44.56,259.03 L45.05,258.45 L45.55,257.83 L46.05,257.2 L46.54,256.56 L47.04,255.93 L47.53,255.33 L48.03,254.75 L48.53,254.22 L49.02,253.75 L49.52,253.34 L50.02,253.01 L50.51,252.76 L51.01,252.59 L51.5,252.51 L52,252.52 L52.5,252.62 L52.99,252.8 L53.49,253.07 L53.98,253.42 L54.48,253.85 L54.98,254.33 L55.47,254.87 L55.97,255.45 L56.47,256.06 L56.96,256.69 L57.46,257.33 L57.95,257.96 L58.45,258.57 L58.95,259.15 L59.44,259.69 L59.94,260.17 L60.43,260.59 L60.93,260.94 L61.43,261.21 L61.92,261.39 L62.42,261.49 L62.92,261.49 L63.41,261.41 L63.91,261.23 L64.4,260.98 L64.9,260.64 L65.4,260.23 L65.89,259.76 L66.39,259.23 L66.88,258.65 L67.38,258.04 L67.88,257.41 L68.37,256.78 L68.87,256.15 L69.37,255.53 L69.86,254.94 L70.36,254.4 L70.85,253.91 L71.35,253.48 L71.85,253.12 L72.34,252.83 L72.84,252.64 L73.33,252.52 L73.83,252.5 L74.33,252.57 L74.82,252.73 L75.32,252.97 L75.82,253.3 L76.31,253.69 L76.81,254.16 L77.3,254.68 L77.8,255.25 L78.3,255.85 L78.79,256.48 L79.29,257.11 L79.78,257.75 L80.28,258.37 L80.78,258.96 L81.27,259.51 L81.77,260.01 L82.27,260.46 L82.76,260.83 L83.26,261.12 L83.75,261.34 L84.25,261.46 L84.75,261.5 L85.24,261.45 L85.74,261.3 L86.23,261.07 L86.73,260.76 L87.23,260.38 L87.72,259.92 L88.22,259.41 L88.72,258.85 L89.21,258.25 L89.71,257.63 L90.2,257 L90.7,256.36 L91.2,255.74 L91.69,255.14 L92.19,254.58 L92.68,254.07 L93.18,253.62 L93.68,253.23 L94.17,252.92 L94.67,252.69 L95.17,252.55 L95.66,252.5 L96.16,252.54 L96.65,252.67 L97.15,252.88 L97.65,253.18 L98.14,253.55 L98.64,253.99 L99.13,254.5 L99.63,255.05 L100.13,255.64 L100.62,256.26 L101.12,256.9 L101.62,257.53 L102.11,258.16 L102.61,258.76 L103.1,259.33 L103.6,259.85" fill="none" stroke="#3b2d52" stroke-width="1.8" stroke-linecap="round"/>
<path d="M343,300.84 L343.5,301.01 L344,301.09 L344.5,301.08 L345,300.98 L345.5,300.8 L346,300.52 L346.49,300.17 L346.99,299.74 L347.49,299.25 L347.99,298.71 L348.49,298.12 L348.99,297.51 L349.49,296.87 L349.99,296.23 L350.49,295.6 L350.99,294.98 L351.49,294.4 L351.99,293.87 L352.49,293.39 L352.98,292.97 L353.48,292.63 L353.98,292.37 L354.48,292.19 L354.98,292.11 L355.48,292.11 L355.98,292.21 L356.48,292.4 L356.98,292.67 L357.48,293.02 L357.98,293.44 L358.48,293.93 L358.98,294.47 L359.47,295.06 L359.97,295.67 L360.47,296.31 L360.97,296.95 L361.47,297.58 L361.97,298.2 L362.47,298.78 L362.97,299.32 L363.47,299.8 L363.97,300.22 L364.47,300.56 L364.97,300.82 L365.47,301 L365.96,301.09 L366.46,301.09 L366.96,300.99 L367.46,300.81 L367.96,300.54 L368.46,300.19 L368.96,299.77 L369.46,299.29 L369.96,298.75 L370.46,298.16 L370.96,297.55 L371.46,296.91 L371.96,296.27 L372.45,295.64 L372.95,295.02 L373.45,294.44 L373.95,293.9 L374.45,293.42 L374.95,293 L375.45,292.65 L375.95,292.38 L376.45,292.2 L376.95,292.11 L377.45,292.11 L377.95,292.2 L378.44,292.38 L378.94,292.65 L379.44,292.99 L379.94,293.41 L380.44,293.89 L380.94,294.43 L381.44,295.02 L381.94,295.63 L382.44,296.26 L382.94,296.91 L383.44,297.54 L383.94,298.16 L384.44,298.74 L384.93,299.28 L385.43,299.77 L385.93,300.19 L386.43,300.54 L386.93,300.81 L387.43,300.99 L387.93,301.09 L388.43,301.09 L388.93,301 L389.43,300.83 L389.93,300.56 L390.43,300.22 L390.93,299.8 L391.42,299.32 L391.92,298.79 L392.42,298.2 L392.92,297.59 L393.42,296.96 L393.92,296.32 L394.42,295.68 L394.92,295.06 L395.42,294.48 L395.92,293.94 L396.42,293.45 L396.92,293.02 L397.42,292.67 L397.91,292.4 L398.41,292.21 L398.91,292.12 L399.41,292.11 L399.91,292.19 L400.41,292.37 L400.91,292.63 L401.41,292.97 L401.91,293.38 L402.41,293.86 L402.91,294.4 L403.41,294.97 L403.91,295.59 L404.4,296.22 L404.9,296.86 L405.4,297.5 L405.9,298.12 L406.4,298.7 L406.9,299.25 L407.4,299.74" fill="none" stroke="#3b2d52" stroke-width="1.8" stroke-linecap="round"/>
<path d="M39.9,374.1 L40.29,374.08 L40.69,374 L41.09,373.87 L41.49,373.69 L41.89,373.46 L42.29,373.18 L42.69,372.87 L43.09,372.51 L43.49,372.12 L43.88,371.7 L44.28,371.25 L44.68,370.79 L45.08,370.31 L45.48,369.82 L45.88,369.33 L46.28,368.84 L46.68,368.37 L47.07,367.9 L47.47,367.46 L47.87,367.04 L48.27,366.66 L48.67,366.3 L49.07,365.99 L49.47,365.72 L49.87,365.49 L50.27,365.32 L50.66,365.19 L51.06,365.12 L51.46,365.1" fill="none" stroke="#442c6e" stroke-width="2.3" stroke-linecap="round"/><path d="M62.63,374.09 L63.03,374.1 L63.43,374.06 L63.83,373.96 L64.23,373.81 L64.62,373.62 L65.02,373.37 L65.42,373.08 L65.82,372.75 L66.22,372.38 L66.62,371.98 L67.02,371.55 L67.42,371.1 L67.82,370.63 L68.21,370.15 L68.61,369.66 L69.01,369.17 L69.41,368.68 L69.81,368.21 L70.21,367.75 L70.61,367.32 L71.01,366.91 L71.41,366.53 L71.8,366.19 L72.2,365.89 L72.6,365.64 L73,365.43 L73.4,365.27 L73.8,365.16 L74.2,365.11 L74.6,365.11" fill="none" stroke="#442c6e" stroke-width="2.3" stroke-linecap="round"/><path d="M85.76,374.1 L86.16,374.09 L86.56,374.03 L86.96,373.92 L87.36,373.75 L87.76,373.54 L88.16,373.28 L88.56,372.97 L88.95,372.63 L89.35,372.25 L89.75,371.84 L90.15,371.4 L90.55,370.94 L90.95,370.47 L91.35,369.98 L91.75,369.49 L92.15,369 L92.54,368.52 L92.94,368.05 L93.34,367.6 L93.74,367.18 L94.14,366.78 L94.54,366.41 L94.94,366.09 L95.34,365.8 L95.74,365.56 L96.13,365.37 L96.53,365.23 L96.93,365.14 L97.33,365.1 L97.73,365.12" fill="none" stroke="#442c6e" stroke-width="2.3" stroke-linecap="round"/><path d="M46.68,374.1 L47.07,374.09 L47.47,374.03 L47.87,373.91 L48.27,373.75 L48.67,373.53 L49.07,373.27 L49.47,372.96 L49.87,372.62 L50.27,372.24 L50.66,371.83 L51.06,371.39 L51.46,370.93 L51.86,370.45 L52.26,369.97 L52.66,369.48 L53.06,368.99 L53.46,368.51 L53.86,368.04 L54.25,367.59 L54.65,367.16 L55.05,366.77 L55.45,366.4 L55.85,366.08 L56.25,365.79 L56.65,365.56 L57.05,365.37 L57.45,365.23 L57.84,365.14 L58.24,365.1 L58.64,365.12" fill="none" stroke="#9f4a8d" stroke-width="2.3" stroke-linecap="round"/><path d="M69.81,374.1 L70.21,374.07 L70.61,373.99 L71.01,373.86 L71.41,373.68 L71.8,373.45 L72.2,373.17 L72.6,372.85 L73,372.5 L73.4,372.1 L73.8,371.68 L74.2,371.24 L74.6,370.77 L74.99,370.29 L75.39,369.8 L75.79,369.31 L76.19,368.83 L76.59,368.35 L76.99,367.89 L77.39,367.45 L77.79,367.03 L78.19,366.64 L78.58,366.29 L78.98,365.98 L79.38,365.71 L79.78,365.49 L80.18,365.31 L80.58,365.19 L80.98,365.12 L81.38,365.1" fill="none" stroke="#9f4a8d" stroke-width="2.3" stroke-linecap="round"/><path d="M92.54,374.09 L92.94,374.1 L93.34,374.05 L93.74,373.96 L94.14,373.81 L94.54,373.61 L94.94,373.36 L95.34,373.07 L95.74,372.74 L96.13,372.37 L96.53,371.97 L96.93,371.54 L97.33,371.08 L97.73,370.61 L98.13,370.13 L98.53,369.64 L98.93,369.15 L99.33,368.67 L99.72,368.19 L100.12,367.74 L100.52,367.3 L100.92,366.9 L101.32,366.52 L101.72,366.18 L102.12,365.88 L102.52,365.63 L102.91,365.42 L103.31,365.27 L103.71,365.16 L104.11,365.11 L104.51,365.11" fill="none" stroke="#9f4a8d" stroke-width="2.3" stroke-linecap="round"/><path d="M38.3,373.67 L38.7,373.86 L39.1,373.99 L39.5,374.07 L39.9,374.1 L40.29,374.08" fill="none" stroke="#442c6e" stroke-width="2.3" stroke-linecap="round"/><path d="M51.06,365.12 L51.46,365.1 L51.86,365.13 L52.26,365.22 L52.66,365.36 L53.06,365.55 L53.46,365.79 L53.86,366.07 L54.25,366.39 L54.65,366.75 L55.05,367.15 L55.45,367.57 L55.85,368.02 L56.25,368.49 L56.65,368.97 L57.05,369.46 L57.45,369.95 L57.84,370.44 L58.24,370.91 L58.64,371.37 L59.04,371.81 L59.44,372.22 L59.84,372.61 L60.24,372.95 L60.64,373.26 L61.03,373.52 L61.43,373.74 L61.83,373.91 L62.23,374.02 L62.63,374.09 L63.03,374.1" fill="none" stroke="#442c6e" stroke-width="2.3" stroke-linecap="round"/><path d="M74.2,365.11 L74.6,365.11 L74.99,365.16 L75.39,365.26 L75.79,365.42 L76.19,365.62 L76.59,365.87 L76.99,366.17 L77.39,366.51 L77.79,366.88 L78.19,367.29 L78.58,367.72 L78.98,368.18 L79.38,368.65 L79.78,369.14 L80.18,369.62 L80.58,370.11 L80.98,370.6 L81.38,371.07 L81.78,371.52 L82.17,371.95 L82.57,372.36 L82.97,372.73 L83.37,373.06 L83.77,373.35 L84.17,373.6 L84.57,373.8 L84.97,373.95 L85.37,374.05 L85.76,374.1 L86.16,374.09" fill="none" stroke="#442c6e" stroke-width="2.3" stroke-linecap="round"/><path d="M97.33,365.1 L97.73,365.12 L98.13,365.19 L98.53,365.31 L98.93,365.48 L99.33,365.7 L99.72,365.97 L100.12,366.28 L100.52,366.63 L100.92,367.02 L101.32,367.43 L101.72,367.87 L102.12,368.34 L102.52,368.81 L102.91,369.3 L103.31,369.79 L103.71,370.28 L104.11,370.76 L104.51,371.22 L104.91,371.67 L105.31,372.09 L105.71,372.48 L106.11,372.84 L106.5,373.16 L106.9,373.44 L107.3,373.67 L107.7,373.86 L108.1,373.99" fill="none" stroke="#442c6e" stroke-width="2.3" stroke-linecap="round"/><path d="M38.3,366.52 L38.7,366.89 L39.1,367.3 L39.5,367.74 L39.9,368.19 L40.29,368.67 L40.69,369.15 L41.09,369.64 L41.49,370.13 L41.89,370.61 L42.29,371.08 L42.69,371.54 L43.09,371.97 L43.49,372.37 L43.88,372.74 L44.28,373.07 L44.68,373.36 L45.08,373.61 L45.48,373.81 L45.88,373.96 L46.28,374.05 L46.68,374.1 L47.07,374.09" fill="none" stroke="#9f4a8d" stroke-width="2.3" stroke-linecap="round"/><path d="M58.24,365.1 L58.64,365.12 L59.04,365.19 L59.44,365.31 L59.84,365.49 L60.24,365.71 L60.64,365.98 L61.03,366.29 L61.43,366.64 L61.83,367.03 L62.23,367.44 L62.63,367.89 L63.03,368.35 L63.43,368.83 L63.83,369.31 L64.23,369.8 L64.62,370.29 L65.02,370.77 L65.42,371.24 L65.82,371.68 L66.22,372.1 L66.62,372.5 L67.02,372.85 L67.42,373.17 L67.82,373.45 L68.21,373.68 L68.61,373.86 L69.01,373.99 L69.41,374.07 L69.81,374.1 L70.21,374.07" fill="none" stroke="#9f4a8d" stroke-width="2.3" stroke-linecap="round"/><path d="M80.98,365.12 L81.38,365.1 L81.78,365.14 L82.17,365.22 L82.57,365.37 L82.97,365.56 L83.37,365.79 L83.77,366.08 L84.17,366.4 L84.57,366.77 L84.97,367.16 L85.37,367.59 L85.76,368.04 L86.16,368.51 L86.56,368.99 L86.96,369.48 L87.36,369.97 L87.76,370.45 L88.16,370.93 L88.56,371.39 L88.95,371.83 L89.35,372.24 L89.75,372.62 L90.15,372.96 L90.55,373.27 L90.95,373.53 L91.35,373.75 L91.75,373.91 L92.15,374.03 L92.54,374.09 L92.94,374.1" fill="none" stroke="#9f4a8d" stroke-width="2.3" stroke-linecap="round"/><path d="M104.11,365.11 L104.51,365.11 L104.91,365.16 L105.31,365.27 L105.71,365.42 L106.11,365.63 L106.5,365.88 L106.9,366.18 L107.3,366.52 L107.7,366.9 L108.1,367.3" fill="none" stroke="#9f4a8d" stroke-width="2.3" stroke-linecap="round"/>
<path d="M244.9,444.2 L245.3,444.19 L245.7,444.13 L246.1,444.02 L246.5,443.86 L246.9,443.66 L247.3,443.41 L247.7,443.12 L248.1,442.8 L248.5,442.44 L248.9,442.05 L249.3,441.64 L249.7,441.2 L250.1,440.75 L250.5,440.28 L250.9,439.81 L251.3,439.33 L251.7,438.86 L252.1,438.4 L252.5,437.94 L252.9,437.51 L253.3,437.1 L253.7,436.71 L254.1,436.36 L254.5,436.04 L254.9,435.76 L255.3,435.52 L255.7,435.32 L256.1,435.17 L256.5,435.07 L256.9,435.01 L257.3,435" fill="none" stroke="#442c6e" stroke-width="2.3" stroke-linecap="round"/><path d="M269.3,444.2 L269.7,444.18 L270.1,444.1 L270.5,443.98 L270.9,443.81 L271.3,443.6 L271.7,443.34 L272.1,443.05 L272.5,442.71 L272.9,442.35 L273.3,441.95 L273.7,441.53 L274.1,441.09 L274.5,440.63 L274.9,440.16 L275.3,439.69 L275.7,439.22 L276.1,438.74 L276.5,438.28 L276.9,437.83 L277.3,437.4 L277.7,437 L278.1,436.62 L278.5,436.28 L278.9,435.96 L279.3,435.69 L279.7,435.46 L280.1,435.28 L280.5,435.14 L280.9,435.05 L281.3,435 L281.7,435.01" fill="none" stroke="#442c6e" stroke-width="2.3" stroke-linecap="round"/><path d="M293.3,444.19 L293.7,444.2 L294.1,444.16 L294.5,444.08 L294.9,443.94 L295.3,443.76 L295.7,443.54 L296.1,443.27 L296.5,442.97 L296.9,442.63 L297.3,442.25 L297.7,441.85 L298.1,441.42 L298.5,440.98 L298.9,440.52 L299.3,440.05 L299.7,439.57 L300.1,439.1 L300.5,438.63 L300.9,438.17 L301.3,437.72 L301.7,437.3 L302.1,436.9 L302.5,436.53 L302.9,436.19 L303.3,435.89 L303.7,435.63 L304.1,435.41 L304.5,435.24 L304.9,435.11 L305.3,435.03 L305.7,435 L306.1,435.02" fill="none" stroke="#442c6e" stroke-width="2.3" stroke-linecap="round"/><path d="M252.1,444.19 L252.5,444.19 L252.9,444.14 L253.3,444.04 L253.7,443.9 L254.1,443.71 L254.5,443.47 L254.9,443.19 L255.3,442.88 L255.7,442.53 L256.1,442.14 L256.5,441.73 L256.9,441.3 L257.3,440.85 L257.7,440.39 L258.1,439.92 L258.5,439.44 L258.9,438.97 L259.3,438.5 L259.7,438.04 L260.1,437.61 L260.5,437.19 L260.9,436.8 L261.3,436.44 L261.7,436.11 L262.1,435.82 L262.5,435.57 L262.9,435.36 L263.3,435.2 L263.7,435.08 L264.1,435.02 L264.5,435" fill="none" stroke="#9f4a8d" stroke-width="2.3" stroke-linecap="round"/><path d="M276.5,444.2 L276.9,444.19 L277.3,444.12 L277.7,444.01 L278.1,443.85 L278.5,443.65 L278.9,443.4 L279.3,443.12 L279.7,442.79 L280.1,442.43 L280.5,442.04 L280.9,441.63 L281.3,441.19 L281.7,440.74 L282.1,440.27 L282.5,439.8 L282.9,439.32 L283.3,438.85 L283.7,438.38 L284.1,437.93 L284.5,437.5 L284.9,437.09 L285.3,436.7 L285.7,436.35 L286.1,436.03 L286.5,435.75 L286.9,435.51 L287.3,435.32 L287.7,435.17 L288.1,435.06 L288.5,435.01 L288.9,435" fill="none" stroke="#9f4a8d" stroke-width="2.3" stroke-linecap="round"/><path d="M300.5,444.18 L300.9,444.2 L301.3,444.17 L301.7,444.1 L302.1,443.98 L302.5,443.81 L302.9,443.59 L303.3,443.34 L303.7,443.04 L304.1,442.71 L304.5,442.34 L304.9,441.94 L305.3,441.52 L305.7,441.08 L306.1,440.62 L306.5,440.15 L306.9,439.68 L307.3,439.2 L307.7,438.73 L308.1,438.27 L308.5,437.82 L308.9,437.39 L309.3,436.99 L309.7,436.61 L310.1,436.27 L310.5,435.96 L310.9,435.69 L311.3,435.46 L311.7,435.27 L312.1,435.14 L312.5,435.04 L312.9,435 L313.3,435.01" fill="none" stroke="#9f4a8d" stroke-width="2.3" stroke-linecap="round"/><path d="M243.3,443.76 L243.7,443.94 L244.1,444.08 L244.5,444.16 L244.9,444.2 L245.3,444.19" fill="none" stroke="#442c6e" stroke-width="2.3" stroke-linecap="round"/><path d="M256.9,435.01 L257.3,435 L257.7,435.05 L258.1,435.14 L258.5,435.28 L258.9,435.46 L259.3,435.69 L259.7,435.96 L260.1,436.27 L260.5,436.62 L260.9,437 L261.3,437.4 L261.7,437.83 L262.1,438.28 L262.5,438.74 L262.9,439.21 L263.3,439.69 L263.7,440.16 L264.1,440.63 L264.5,441.09 L264.9,441.53 L265.3,441.95 L265.7,442.35 L266.1,442.71 L266.5,443.05 L266.9,443.34 L267.3,443.6 L267.7,443.81 L268.1,443.98 L268.5,444.1 L268.9,444.18 L269.3,444.2 L269.7,444.18" fill="none" stroke="#442c6e" stroke-width="2.3" stroke-linecap="round"/><path d="M281.3,435 L281.7,435.01 L282.1,435.06 L282.5,435.17 L282.9,435.32 L283.3,435.52 L283.7,435.76 L284.1,436.04 L284.5,436.36 L284.9,436.71 L285.3,437.1 L285.7,437.51 L286.1,437.94 L286.5,438.39 L286.9,438.86 L287.3,439.33 L287.7,439.81 L288.1,440.28 L288.5,440.75 L288.9,441.2 L289.3,441.64 L289.7,442.05 L290.1,442.44 L290.5,442.8 L290.9,443.12 L291.3,443.41 L291.7,443.66 L292.1,443.86 L292.5,444.01 L292.9,444.12 L293.3,444.19 L293.7,444.2" fill="none" stroke="#442c6e" stroke-width="2.3" stroke-linecap="round"/><path d="M305.7,435 L306.1,435.02 L306.5,435.09 L306.9,435.2 L307.3,435.36 L307.7,435.57 L308.1,435.82 L308.5,436.11 L308.9,436.44 L309.3,436.8 L309.7,437.2 L310.1,437.61 L310.5,438.05 L310.9,438.51 L311.3,438.98 L311.7,439.45 L312.1,439.93 L312.5,440.4 L312.9,440.86 L313.3,441.31 L313.7,441.74 L314.1,442.15 L314.5,442.53 L314.9,442.88 L315.3,443.2 L315.7,443.47 L316.1,443.71 L316.5,443.9 L316.9,444.05" fill="none" stroke="#442c6e" stroke-width="2.3" stroke-linecap="round"/><path d="M243.3,436.45 L243.7,436.81 L244.1,437.21 L244.5,437.63 L244.9,438.06 L245.3,438.52 L245.7,438.99 L246.1,439.46 L246.5,439.94 L246.9,440.41 L247.3,440.87 L247.7,441.32 L248.1,441.75 L248.5,442.16 L248.9,442.54 L249.3,442.89 L249.7,443.21 L250.1,443.48 L250.5,443.72 L250.9,443.91 L251.3,444.05 L251.7,444.15 L252.1,444.19 L252.5,444.19" fill="none" stroke="#9f4a8d" stroke-width="2.3" stroke-linecap="round"/><path d="M264.1,435.02 L264.5,435 L264.9,435.03 L265.3,435.11 L265.7,435.24 L266.1,435.42 L266.5,435.64 L266.9,435.9 L267.3,436.2 L267.7,436.54 L268.1,436.91 L268.5,437.31 L268.9,437.73 L269.3,438.18 L269.7,438.64 L270.1,439.11 L270.5,439.58 L270.9,440.06 L271.3,440.53 L271.7,440.99 L272.1,441.43 L272.5,441.86 L272.9,442.26 L273.3,442.63 L273.7,442.97 L274.1,443.28 L274.5,443.54 L274.9,443.77 L275.3,443.95 L275.7,444.08 L276.1,444.16 L276.5,444.2 L276.9,444.19" fill="none" stroke="#9f4a8d" stroke-width="2.3" stroke-linecap="round"/><path d="M288.5,435.01 L288.9,435 L289.3,435.05 L289.7,435.14 L290.1,435.28 L290.5,435.47 L290.9,435.7 L291.3,435.97 L291.7,436.28 L292.1,436.63 L292.5,437.01 L292.9,437.41 L293.3,437.84 L293.7,438.29 L294.1,438.75 L294.5,439.22 L294.9,439.7 L295.3,440.17 L295.7,440.64 L296.1,441.1 L296.5,441.54 L296.9,441.96 L297.3,442.36 L297.7,442.72 L298.1,443.05 L298.5,443.35 L298.9,443.6 L299.3,443.82 L299.7,443.98 L300.1,444.1 L300.5,444.18 L300.9,444.2" fill="none" stroke="#9f4a8d" stroke-width="2.3" stroke-linecap="round"/><path d="M312.9,435 L313.3,435.01 L313.7,435.07 L314.1,435.17 L314.5,435.32 L314.9,435.52 L315.3,435.76 L315.7,436.05 L316.1,436.37 L316.5,436.72 L316.9,437.11" fill="none" stroke="#9f4a8d" stroke-width="2.3" stroke-linecap="round"/>
<path d="M221.25,387.67 L221.7,387.46 L222.11,387.15 L222.48,386.75 L222.81,386.26 L223.11,385.69 L223.38,385.06 L223.62,384.36 L223.85,383.61 L224.06,382.82 L224.26,382.02 L224.46,381.2 L224.66,380.4 L224.88,379.61 L225.11,378.86 L225.36,378.15 L225.65,377.51 L225.95,376.93 L226.3,376.44 L226.69,376.03 L227.1,375.72 L227.57,375.5" fill="none" stroke="#1d3670" stroke-width="2.3" stroke-linecap="round"/><path d="M240.16,379.92 L240.6,379.71 L241,379.42 L241.36,379.03 L241.71,378.55 L242,378 L242.27,377.38 L242.52,376.7 L242.77,375.97 L243.02,375.2 L243.27,374.41 L243.52,373.61 L243.81,372.82 L244.09,372.06 L244.43,371.33 L244.8,370.65 L245.22,370.03 L245.68,369.5 L246.09,369.07 L246.62,368.72 L247.19,368.47 L247.79,368.34" fill="none" stroke="#1d3670" stroke-width="2.3" stroke-linecap="round"/><path d="M257.8,377.16 L258.23,377.2 L258.67,377.15 L259.14,377.01 L259.7,376.79 L260.21,376.49 L260.76,376.11 L261.33,375.68 L261.93,375.21 L262.57,374.72 L263.22,374.2 L263.88,373.69 L264.56,373.2 L265.26,372.74 L265.92,372.32 L266.61,371.97 L267.29,371.7 L267.96,371.51 L268.61,371.42 L269.23,371.42 L269.87,371.55 L270.33,371.74" fill="none" stroke="#1d3670" stroke-width="2.3" stroke-linecap="round"/><path d="M273.18,385.14 L273.58,385.49 L274.05,385.77 L274.57,385.95 L275.18,386.08 L275.86,386.15 L276.6,386.15 L277.37,386.08 L278.17,385.96 L278.98,385.78 L279.78,385.55 L280.58,385.29 L281.35,385 L282.08,384.69 L282.74,384.38 L283.38,384.09 L284.01,383.86 L284.59,383.69 L285.18,383.61 L285.68,383.58 L286.14,383.64 L286.56,383.78" fill="none" stroke="#1d3670" stroke-width="2.3" stroke-linecap="round"/><path d="M293.74,394.94 L294.3,395 L294.87,394.96 L295.45,394.81 L296.04,394.56 L296.58,394.21 L297.16,393.77 L297.74,393.27 L298.32,392.69 L298.88,392.07 L299.4,391.41 L299.9,390.73 L300.36,390.05 L300.8,389.38 L301.22,388.74 L301.62,388.15 L302.02,387.62 L302.41,387.16 L302.81,386.78 L303.27,386.48 L303.69,386.28 L304.12,386.17" fill="none" stroke="#1d3670" stroke-width="2.3" stroke-linecap="round"/><path d="M315.64,392.64 L316.18,392.49 L316.69,392.23 L317.16,391.88 L317.6,391.43 L317.99,390.89 L318.34,390.29 L318.68,389.61 L318.99,388.89 L319.28,388.12 L319.55,387.33 L319.82,386.54 L320.09,385.75 L320.37,384.98 L320.66,384.25 L320.97,383.57 L321.31,382.95 L321.69,382.4 L322.1,381.93 L322.54,381.56 L323.03,381.28 L323.55,381.11" fill="none" stroke="#1d3670" stroke-width="2.3" stroke-linecap="round"/><path d="M215.7,390.06 L216.16,389.81 L216.56,389.47 L216.93,389.04 L217.26,388.52 L217.55,387.93 L217.81,387.27 L218.05,386.55 L218.27,385.79 L218.47,385 L218.66,384.19 L218.86,383.37 L219.05,382.56 L219.26,381.78 L219.49,381.04 L219.74,380.35 L220.02,379.73 L220.33,379.17 L220.68,378.7 L221.06,378.32 L221.48,378.03 L221.95,377.83" fill="none" stroke="#2c7dbf" stroke-width="2.3" stroke-linecap="round"/><path d="M234.53,382.24 L235.01,382 L235.44,381.66 L235.81,381.24 L236.16,380.73 L236.47,380.13 L236.74,379.47 L236.98,378.76 L237.21,378 L237.42,377.21 L237.62,376.4 L237.82,375.58 L238.03,374.78 L238.26,374 L238.51,373.26 L238.78,372.57 L239.08,371.95 L239.42,371.4 L239.81,370.93 L240.25,370.55 L240.73,370.26 L241.2,370.09" fill="none" stroke="#2c7dbf" stroke-width="2.3" stroke-linecap="round"/><path d="M252.46,376.79 L252.96,376.74 L253.38,376.59 L253.82,376.35 L254.27,376.02 L254.74,375.61 L255.27,375.14 L255.77,374.62 L256.3,374.05 L256.85,373.45 L257.42,372.84 L258,372.24 L258.6,371.65 L259.21,371.11 L259.83,370.61 L260.46,370.18 L261.04,369.82 L261.66,369.55 L262.27,369.38 L262.87,369.31 L263.45,369.34 L263.93,369.47" fill="none" stroke="#2c7dbf" stroke-width="2.3" stroke-linecap="round"/><path d="M269.07,381.34 L269.41,381.56 L269.83,381.72 L270.33,381.81 L270.93,381.89 L271.55,381.88 L272.24,381.84 L272.98,381.76 L273.76,381.65 L274.57,381.53 L275.39,381.4 L276.22,381.26 L277.04,381.13 L277.83,381.01 L278.59,380.92 L279.32,380.87 L279.98,380.84 L280.57,380.85 L281.09,380.91 L281.54,381.02 L281.92,381.19 L282.22,381.43" fill="none" stroke="#2c7dbf" stroke-width="2.3" stroke-linecap="round"/><path d="M287.27,393.41 L287.81,393.52 L288.39,393.53 L288.99,393.44 L289.61,393.25 L290.25,392.97 L290.85,392.6 L291.5,392.17 L292.15,391.68 L292.79,391.15 L293.41,390.59 L294.02,390.02 L294.61,389.45 L295.18,388.89 L295.72,388.37 L296.25,387.9 L296.75,387.49 L297.28,387.15 L297.75,386.89 L298.2,386.72 L298.62,386.64 L299.01,386.65" fill="none" stroke="#2c7dbf" stroke-width="2.3" stroke-linecap="round"/><path d="M309.78,393.98 L310.25,393.82 L310.71,393.55 L311.15,393.19 L311.56,392.74 L311.94,392.21 L312.31,391.61 L312.66,390.95 L313.01,390.24 L313.35,389.5 L313.69,388.74 L314.04,387.97 L314.37,387.22 L314.69,386.5 L315,385.81 L315.31,385.17 L315.64,384.6 L315.98,384.1 L316.37,383.67 L316.76,383.34 L317.18,383.1 L317.63,382.95" fill="none" stroke="#2c7dbf" stroke-width="2.3" stroke-linecap="round"/><path d="M329.15,388.92 L329.55,388.81" fill="none" stroke="#2c7dbf" stroke-width="2.3" stroke-linecap="round"/><path d="M334.36,388.73 L334.82,388.74 L335.29,388.66 L335.78,388.48 L336.27,388.2 L336.78,387.84 L337.31,387.41 L337.84,386.91 L338.38,386.35 L338.92,385.75 L339.47,385.13 L340.02,384.5 L340.57,383.87 L341.11,383.26 L341.65,382.69 L342.18,382.16 L342.7,381.69 L343.21,381.3 L343.7,380.99 L344.18,380.76 L344.65,380.63 L345.15,380.6" fill="none" stroke="#432a6b" stroke-width="2.3" stroke-linecap="round"/><path d="M354.84,389.76 L355.35,389.77 L355.86,389.68 L356.37,389.49 L356.88,389.2 L357.4,388.83 L357.92,388.37 L358.43,387.84 L358.95,387.26 L359.46,386.64 L359.98,385.98 L360.49,385.32 L360.99,384.66 L361.5,384.01 L362,383.4 L362.5,382.84 L363,382.35 L363.5,381.92 L364,381.58 L364.49,381.33 L364.99,381.19 L365.48,381.14" fill="none" stroke="#432a6b" stroke-width="2.3" stroke-linecap="round"/><path d="M375.49,389.89 L375.99,389.89 L376.45,389.78 L376.89,389.59 L377.35,389.3 L377.83,388.93 L378.32,388.48 L378.83,387.98 L379.36,387.42 L379.89,386.82 L380.44,386.2 L380.99,385.57 L381.54,384.94 L382.09,384.33 L382.63,383.76 L383.16,383.23 L383.67,382.76 L384.17,382.37 L384.65,382.05 L385.11,381.82 L385.56,381.69 L386.06,381.65" fill="none" stroke="#432a6b" stroke-width="2.3" stroke-linecap="round"/><path d="M329.95,388.65 L330.35,388.38 L330.76,388.03 L331.18,387.59 L331.61,387.08 L332.06,386.52 L332.53,385.9 L333.01,385.26 L333.51,384.6 L334.02,383.93 L334.55,383.29 L335.09,382.67 L335.63,382.09 L336.18,381.57 L336.72,381.12 L337.26,380.75 L337.78,380.48 L338.31,380.29 L338.83,380.21 L339.34,380.23" fill="none" stroke="#a2498f" stroke-width="2.3" stroke-linecap="round"/><path d="M348.82,389.54 L349.32,389.52 L349.82,389.41 L350.33,389.19 L350.84,388.88 L351.36,388.49 L351.88,388.02 L352.4,387.48 L352.93,386.89 L353.45,386.27 L353.98,385.62 L354.5,384.96 L355.02,384.32 L355.54,383.69 L356.05,383.11 L356.57,382.58 L357.07,382.11 L357.58,381.72 L358.08,381.42 L358.58,381.21 L359.07,381.11 L359.57,381.1" fill="none" stroke="#a2498f" stroke-width="2.3" stroke-linecap="round"/><path d="M369.5,389.92 L370.01,389.89 L370.51,389.75 L371,389.51 L371.5,389.18 L372,388.76 L372.5,388.27 L372.99,387.71 L373.49,387.1 L373.99,386.45 L374.48,385.78 L374.98,385.11 L375.48,384.44 L375.98,383.8 L376.5,383.21 L377.04,382.67 L377.6,382.21 L378.15,381.83 L378.7,381.55 L379.25,381.36 L379.78,381.28 L380.31,381.3" fill="none" stroke="#a2498f" stroke-width="2.3" stroke-linecap="round"/><path d="M390.52,390.21 L391.12,390.1 L391.7,389.87 L392.25,389.53 L392.67,389.1" fill="none" stroke="#a2498f" stroke-width="2.3" stroke-linecap="round"/><path d="M397.38,388.42 L397.9,388.2 L398.38,387.88 L398.75,387.48 L399.13,386.98 L399.47,386.39 L399.75,385.74 L399.98,385.04 L400.2,384.28 L400.39,383.48 L400.56,382.67 L400.73,381.84 L400.89,381.03 L401.06,380.23 L401.25,379.47 L401.46,378.75 L401.7,378.09 L401.97,377.5 L402.29,376.98 L402.64,376.56 L403.05,376.21 L403.52,375.96" fill="none" stroke="#1d3670" stroke-width="2.3" stroke-linecap="round"/><path d="M416.19,380.4 L416.64,380.21 L417.06,379.93 L417.45,379.55 L417.8,379.09 L418.13,378.55 L418.42,377.93 L418.7,377.25 L418.98,376.52 L419.24,375.76 L419.49,374.97 L419.76,374.17 L420.03,373.39 L420.32,372.62 L420.64,371.89 L420.98,371.2 L421.36,370.58 L421.73,370.05 L422.17,369.59 L422.64,369.23 L423.15,368.96 L423.7,368.8" fill="none" stroke="#1d3670" stroke-width="2.3" stroke-linecap="round"/><path d="M434.45,376.6 L434.89,376.6 L435.33,376.5 L435.78,376.31 L436.24,376.04 L436.72,375.68 L437.23,375.25 L437.75,374.77 L438.3,374.24 L438.88,373.69 L439.48,373.12 L440.1,372.56 L440.74,372.01 L441.39,371.5 L442.06,371.05 L442.74,370.66 L443.42,370.35 L444.09,370.13 L444.75,370.01 L445.38,370 L446.04,370.12 L446.68,370.38" fill="none" stroke="#1d3670" stroke-width="2.3" stroke-linecap="round"/><path d="M449.47,383.94 L449.89,384.31 L450.4,384.6 L450.98,384.81 L451.63,384.94 L452.33,384.98 L453.09,384.95 L453.87,384.84 L454.66,384.65 L455.43,384.38 L456.22,384.08 L456.99,383.77 L457.77,383.47 L458.54,383.19 L459.28,382.93 L459.99,382.72 L460.67,382.56 L461.3,382.46 L461.88,382.43 L462.41,382.47 L462.88,382.59 L463.29,382.8" fill="none" stroke="#1d3670" stroke-width="2.3" stroke-linecap="round"/><path d="M469.44,394.68 L470.06,394.78 L470.68,394.76 L471.3,394.62 L471.91,394.37 L472.52,394.03 L473.06,393.6 L473.64,393.09 L474.21,392.52 L474.76,391.9 L475.29,391.26 L475.8,390.59 L476.3,389.92 L476.78,389.27 L477.23,388.66 L477.68,388.09 L478.16,387.58 L478.59,387.14 L479.02,386.78 L479.45,386.52 L479.93,386.34 L480.37,386.26" fill="none" stroke="#1d3670" stroke-width="2.3" stroke-linecap="round"/><path d="M491.77,393.07 L492.35,392.88 L492.88,392.59 L493.36,392.2 L493.73,391.74 L494.12,391.17 L494.47,390.53 L494.74,389.84 L495.01,389.08 L495.25,388.3 L495.46,387.49 L495.66,386.67 L495.85,385.87 L496.05,385.07 L496.24,384.32 L496.45,383.62 L496.7,382.97 L496.95,382.39 L497.24,381.89 L497.59,381.46 L497.96,381.13 L498.38,380.9" fill="none" stroke="#1d3670" stroke-width="2.3" stroke-linecap="round"/><path d="M392.73,389.03 L393.22,388.48 L393.66,387.85 L394.05,387.15 L394.38,386.41 L394.68,385.63 L394.94,384.84 L395.18,384.03 L395.41,383.24 L395.62,382.48 L395.84,381.75 L396.09,381.06 L396.33,380.45 L396.6,379.91 L396.91,379.44 L397.28,379.05 L397.66,378.76 L398.09,378.56" fill="none" stroke="#2c7dbf" stroke-width="2.3" stroke-linecap="round"/><path d="M410.63,382.47 L411.01,382.26 L411.43,381.95 L411.79,381.55 L412.15,381.06 L412.48,380.48 L412.78,379.83 L413.05,379.13 L413.31,378.38 L413.55,377.6 L413.79,376.8 L414.02,375.99 L414.26,375.2 L414.51,374.43 L414.78,373.7 L415.07,373.02 L415.39,372.41 L415.74,371.87 L416.13,371.41 L416.55,371.04 L416.99,370.78 L417.49,370.61" fill="none" stroke="#2c7dbf" stroke-width="2.3" stroke-linecap="round"/><path d="M429.04,376.81 L429.53,376.71 L429.96,376.52 L430.39,376.24 L430.82,375.87 L431.25,375.42 L431.69,374.89 L432.14,374.31 L432.61,373.69 L433.09,373.04 L433.59,372.37 L434.1,371.7 L434.63,371.06 L435.17,370.44 L435.73,369.88 L436.31,369.38 L436.9,368.96 L437.49,368.63 L438.09,368.39 L438.68,368.26 L439.27,368.24 L439.84,368.33" fill="none" stroke="#2c7dbf" stroke-width="2.3" stroke-linecap="round"/><path d="M445.26,379.96 L445.61,380.19 L446.03,380.37 L446.52,380.49 L447.09,380.55 L447.73,380.57 L448.43,380.55 L449.18,380.5 L449.96,380.41 L450.78,380.3 L451.6,380.17 L452.43,380.02 L453.24,379.88 L454.02,379.73 L454.76,379.6 L455.45,379.49 L456.08,379.4 L456.65,379.35 L457.14,379.35 L457.56,379.41 L457.92,379.52 L458.34,379.79" fill="none" stroke="#2c7dbf" stroke-width="2.3" stroke-linecap="round"/><path d="M462.83,392.47 L463.37,392.67 L463.89,392.73 L464.52,392.72 L465.18,392.61 L465.87,392.41 L466.57,392.13 L467.27,391.77 L467.97,391.34 L468.65,390.86 L469.31,390.34 L469.95,389.8 L470.56,389.25 L471.13,388.71 L471.67,388.19 L472.18,387.72 L472.67,387.31 L473.13,386.97 L473.66,386.71 L474.09,386.54 L474.52,386.45 L474.94,386.47" fill="none" stroke="#2c7dbf" stroke-width="2.3" stroke-linecap="round"/><path d="M485.47,394.45 L486,394.31 L486.51,394.07 L487,393.72 L487.42,393.29 L487.86,392.76 L488.27,392.16 L488.66,391.5 L489.01,390.79 L489.36,390.04 L489.69,389.27 L490,388.49 L490.31,387.72 L490.58,386.98 L490.84,386.28 L491.09,385.63 L491.41,385.02 L491.7,384.5 L492,384.07 L492.4,383.7 L492.77,383.44 L493.18,383.27" fill="none" stroke="#2c7dbf" stroke-width="2.3" stroke-linecap="round"/><path d="M505.89,386.97 L506.32,386.7 L506.69,386.33 L507.02,385.89 L507.3,385.36 L507.55,384.75 L507.75,384.09 L507.94,383.37 L508.1,382.61 L508.27,381.81" fill="none" stroke="#2c7dbf" stroke-width="2.3" stroke-linecap="round"/><path d="M213.47,384.75 L214.19,385.16 L214.91,385.58 L215.63,386 L216.35,386.41 L217.06,386.79 L217.75,387.12 L218.42,387.4 L219.05,387.62 L219.66,387.76 L220.23,387.82 L220.76,387.79 L221.25,387.67 L221.7,387.46" fill="none" stroke="#1d3670" stroke-width="2.3" stroke-linecap="round"/><path d="M227.1,375.72 L227.57,375.5 L228.08,375.38 L228.62,375.35 L229.19,375.42 L229.8,375.57 L230.44,375.8 L231.09,376.11 L231.76,376.47 L232.44,376.88 L233.14,377.3 L233.85,377.74 L234.56,378.18 L235.28,378.59 L235.99,378.98 L236.68,379.32 L237.34,379.61 L237.98,379.84 L238.58,379.98 L239.15,380.05 L239.67,380.03 L240.16,379.92 L240.6,379.71" fill="none" stroke="#1d3670" stroke-width="2.3" stroke-linecap="round"/><path d="M247.19,368.47 L247.79,368.34 L248.41,368.32 L249.05,368.42 L249.57,368.64 L250.19,368.96 L250.78,369.37 L251.35,369.86 L251.91,370.41 L252.45,371.03 L252.95,371.68 L253.45,372.36 L253.93,373.04 L254.39,373.72 L254.82,374.37 L255.28,374.98 L255.7,375.54 L256.11,376.03 L256.51,376.44 L256.91,376.77 L257.38,377.02 L257.8,377.16 L258.23,377.2" fill="none" stroke="#1d3670" stroke-width="2.3" stroke-linecap="round"/><path d="M269.87,371.55 L270.33,371.74 L270.92,372.11 L271.42,372.59 L271.84,373.16 L272.17,373.8 L272.42,374.51 L272.58,375.26 L272.63,376.02 L272.67,376.85 L272.66,377.69 L272.61,378.53 L272.53,379.35 L272.47,380.18 L272.4,380.97 L272.35,381.72 L272.34,382.43 L272.38,383.09 L272.47,383.7 L272.64,384.25 L272.87,384.73 L273.18,385.14 L273.58,385.49" fill="none" stroke="#1d3670" stroke-width="2.3" stroke-linecap="round"/><path d="M286.14,383.64 L286.56,383.78 L286.94,384.02 L287.28,384.34 L287.6,384.76 L287.9,385.26 L288.22,385.84 L288.48,386.48 L288.74,387.18 L289.01,387.92 L289.28,388.68 L289.56,389.47 L289.86,390.25 L290.19,391.02 L290.54,391.76 L290.89,392.44 L291.29,393.07 L291.73,393.63 L292.19,394.1 L292.68,394.49 L293.2,394.76 L293.74,394.94 L294.3,395" fill="none" stroke="#1d3670" stroke-width="2.3" stroke-linecap="round"/><path d="M303.69,386.28 L304.12,386.17 L304.58,386.16 L305.07,386.24 L305.57,386.42 L306.11,386.68 L306.67,387.01 L307.25,387.42 L307.86,387.87 L308.48,388.37 L309.11,388.89 L309.75,389.43 L310.39,389.97 L311.03,390.5 L311.66,391 L312.27,391.45 L312.87,391.85 L313.45,392.18 L314,392.44 L314.52,392.61 L315.07,392.68 L315.64,392.64 L316.18,392.49" fill="none" stroke="#1d3670" stroke-width="2.3" stroke-linecap="round"/><path d="M323.03,381.28 L323.55,381.11 L324.11,381.03 L324.69,381.07 L325.3,381.2 L325.93,381.44 L326.56,381.77 L327.2,382.17 L327.83,382.66 L328.44,383.2 L329.03,383.79" fill="none" stroke="#1d3670" stroke-width="2.3" stroke-linecap="round"/><path d="M221.48,378.03 L221.95,377.83 L222.46,377.73 L223,377.72 L223.58,377.8 L224.2,377.96 L224.84,378.2 L225.51,378.5 L226.2,378.86 L226.91,379.26 L227.62,379.68 L228.34,380.12 L229.05,380.55 L229.75,380.97 L230.44,381.36 L231.1,381.7 L231.75,381.99 L232.36,382.22 L232.93,382.37 L233.48,382.42 L234.01,382.39 L234.53,382.24 L235.01,382" fill="none" stroke="#2c7dbf" stroke-width="2.3" stroke-linecap="round"/><path d="M240.73,370.26 L241.2,370.09 L241.76,370.01 L242.35,370.02 L242.97,370.14 L243.56,370.36 L244.23,370.65 L244.9,371.02 L245.58,371.45 L246.24,371.94 L246.88,372.47 L247.51,373.03 L248.12,373.59 L248.69,374.16 L249.22,374.7 L249.72,375.21 L250.26,375.66 L250.72,376.06 L251.17,376.37 L251.6,376.61 L252.03,376.74 L252.46,376.79 L252.96,376.74" fill="none" stroke="#2c7dbf" stroke-width="2.3" stroke-linecap="round"/><path d="M263.45,369.34 L263.93,369.47 L264.45,369.71 L264.94,370.07 L265.4,370.51 L265.81,371.05 L266.14,371.65 L266.48,372.34 L266.79,373.07 L267.06,373.85 L267.29,374.66 L267.5,375.47 L267.67,376.27 L267.85,377.07 L267.95,377.82 L268.03,378.51 L268.11,379.14 L268.2,379.71 L268.32,380.21 L268.49,380.63 L268.79,381.06 L269.07,381.34 L269.41,381.56" fill="none" stroke="#2c7dbf" stroke-width="2.3" stroke-linecap="round"/><path d="M281.92,381.19 L282.22,381.43 L282.56,381.81 L282.74,382.19 L282.88,382.64 L282.99,383.16 L283.08,383.76 L283.21,384.43 L283.36,385.17 L283.52,385.95 L283.69,386.77 L283.86,387.58 L284.05,388.4 L284.26,389.2 L284.51,389.97 L284.79,390.69 L285.12,391.36 L285.48,391.95 L285.83,392.44 L286.27,392.86 L286.75,393.19 L287.27,393.41 L287.81,393.52" fill="none" stroke="#2c7dbf" stroke-width="2.3" stroke-linecap="round"/><path d="M298.62,386.64 L299.01,386.65 L299.41,386.76 L299.81,386.95 L300.24,387.24 L300.69,387.6 L301.16,388.04 L301.66,388.53 L302.19,389.07 L302.74,389.65 L303.31,390.24 L303.91,390.83 L304.51,391.41 L305.12,391.97 L305.74,392.48 L306.36,392.94 L306.97,393.33 L307.57,393.65 L308.16,393.87 L308.72,394.01 L309.26,394.04 L309.78,393.98 L310.25,393.82" fill="none" stroke="#2c7dbf" stroke-width="2.3" stroke-linecap="round"/><path d="M317.18,383.1 L317.63,382.95 L318.13,382.9 L318.66,382.95 L319.22,383.08 L319.82,383.29 L320.44,383.58 L321.09,383.93 L321.75,384.34 L322.43,384.8 L323.11,385.28 L323.78,385.79 L324.44,386.29 L325.08,386.79 L325.7,387.26 L326.28,387.7 L326.84,388.09 L327.37,388.41 L327.86,388.66 L328.31,388.84 L328.74,388.92 L329.15,388.92 L329.55,388.81" fill="none" stroke="#2c7dbf" stroke-width="2.3" stroke-linecap="round"/><path d="M329.5,384.3 L330.06,384.93 L330.59,385.56 L331.11,386.16 L331.6,386.73 L332.07,387.26 L332.54,387.72 L333,388.1 L333.45,388.4 L333.9,388.61 L334.36,388.73 L334.82,388.74" fill="none" stroke="#432a6b" stroke-width="2.3" stroke-linecap="round"/><path d="M344.65,380.63 L345.15,380.6 L345.63,380.67 L346.13,380.85 L346.63,381.12 L347.12,381.48 L347.61,381.93 L348.09,382.46 L348.57,383.04 L349.05,383.68 L349.52,384.35 L349.99,385.04 L350.47,385.73 L350.94,386.41 L351.42,387.06 L351.89,387.67 L352.37,388.22 L352.86,388.71 L353.35,389.11 L353.84,389.42 L354.34,389.64 L354.84,389.76 L355.35,389.77" fill="none" stroke="#432a6b" stroke-width="2.3" stroke-linecap="round"/><path d="M364.99,381.19 L365.48,381.14 L365.98,381.19 L366.47,381.35 L366.97,381.6 L367.47,381.95 L367.97,382.38 L368.47,382.88 L368.97,383.44 L369.48,384.06 L369.98,384.71 L370.48,385.37 L370.99,386.04 L371.49,386.7 L371.99,387.33 L372.49,387.92 L373,388.45 L373.5,388.91 L373.99,389.3 L374.49,389.59 L374.99,389.79 L375.49,389.89 L375.99,389.89" fill="none" stroke="#432a6b" stroke-width="2.3" stroke-linecap="round"/><path d="M385.56,381.69 L386.06,381.65 L386.5,381.71 L386.93,381.86 L387.37,382.11 L387.81,382.44 L388.27,382.84 L388.74,383.31 L389.24,383.84 L389.77,384.4 L390.33,384.98 L390.92,385.56 L391.55,386.13 L392.17,386.68" fill="none" stroke="#432a6b" stroke-width="2.3" stroke-linecap="round"/><path d="M338.83,380.21 L339.34,380.23 L339.83,380.36 L340.32,380.58 L340.79,380.9 L341.26,381.31 L341.72,381.8 L342.17,382.36 L342.62,382.97 L343.07,383.63 L343.53,384.32 L343.99,385.01 L344.47,385.71 L344.94,386.38 L345.43,387.02 L345.9,387.61 L346.38,388.14 L346.86,388.6 L347.35,388.98 L347.83,389.26 L348.32,389.45 L348.82,389.54 L349.32,389.52" fill="none" stroke="#a2498f" stroke-width="2.3" stroke-linecap="round"/><path d="M359.07,381.11 L359.57,381.1 L360.06,381.19 L360.55,381.39 L361.03,381.68 L361.52,382.05 L362.01,382.51 L362.5,383.04 L362.99,383.63 L363.49,384.26 L363.99,384.92 L364.48,385.59 L364.98,386.26 L365.48,386.92 L365.99,387.54 L366.49,388.11 L366.99,388.63 L367.5,389.07 L368,389.42 L368.5,389.69 L369,389.86 L369.5,389.92 L370.01,389.89" fill="none" stroke="#a2498f" stroke-width="2.3" stroke-linecap="round"/><path d="M379.78,381.28 L380.31,381.3 L380.81,381.42 L381.3,381.65 L381.78,381.97 L382.24,382.38 L382.69,382.87 L383.14,383.43 L383.59,384.04 L384.04,384.7 L384.49,385.38 L384.96,386.08 L385.45,386.77 L385.94,387.43 L386.45,388.06 L386.99,388.63 L387.54,389.13 L388.12,389.55 L388.71,389.88 L389.31,390.1 L389.92,390.21 L390.52,390.21 L391.12,390.1" fill="none" stroke="#a2498f" stroke-width="2.3" stroke-linecap="round"/><path d="M392.26,386.76 L392.93,387.24 L393.61,387.67 L394.3,388.02 L394.98,388.28 L395.65,388.46 L396.21,388.57 L396.82,388.54 L397.38,388.42 L397.9,388.2" fill="none" stroke="#1d3670" stroke-width="2.3" stroke-linecap="round"/><path d="M403.05,376.21 L403.52,375.96 L404.03,375.8 L404.55,375.75 L405.15,375.78 L405.78,375.89 L406.45,376.09 L407.11,376.37 L407.82,376.7 L408.54,377.08 L409.25,377.51 L409.95,377.97 L410.65,378.43 L411.35,378.87 L412.04,379.29 L412.71,379.66 L413.37,379.98 L414,380.23 L414.59,380.4 L415.16,380.49 L415.69,380.49 L416.19,380.4 L416.64,380.21" fill="none" stroke="#1d3670" stroke-width="2.3" stroke-linecap="round"/><path d="M423.15,368.96 L423.7,368.8 L424.27,368.74 L424.79,368.81 L425.4,368.97 L426.03,369.22 L426.65,369.57 L427.28,370 L427.88,370.51 L428.46,371.07 L429.03,371.67 L429.59,372.29 L430.14,372.92 L430.67,373.55 L431.19,374.15 L431.68,374.71 L432.16,375.22 L432.63,375.66 L433.08,376.03 L433.58,376.31 L434.02,376.5 L434.45,376.6 L434.89,376.6" fill="none" stroke="#1d3670" stroke-width="2.3" stroke-linecap="round"/><path d="M446.04,370.12 L446.68,370.38 L447.26,370.75 L447.76,371.23 L448.18,371.8 L448.5,372.45 L448.74,373.16 L448.89,373.92 L448.97,374.72 L448.99,375.55 L448.95,376.38 L448.88,377.22 L448.79,378.05 L448.7,378.87 L448.61,379.66 L448.56,380.42 L448.54,381.14 L448.58,381.81 L448.69,382.44 L448.87,383 L449.13,383.51 L449.47,383.94 L449.89,384.31" fill="none" stroke="#1d3670" stroke-width="2.3" stroke-linecap="round"/><path d="M462.88,382.59 L463.29,382.8 L463.69,383.1 L464.01,383.48 L464.28,383.93 L464.51,384.46 L464.72,385.07 L464.89,385.73 L465.06,386.46 L465.23,387.22 L465.4,388.02 L465.59,388.83 L465.79,389.65 L466.03,390.45 L466.31,391.22 L466.63,391.95 L467,392.63 L467.42,393.23 L467.89,393.75 L468.41,394.18 L468.86,394.47 L469.44,394.68 L470.06,394.78" fill="none" stroke="#1d3670" stroke-width="2.3" stroke-linecap="round"/><path d="M479.93,386.34 L480.37,386.26 L480.83,386.29 L481.29,386.41 L481.78,386.62 L482.32,386.91 L482.84,387.29 L483.38,387.73 L483.94,388.22 L484.53,388.76 L485.12,389.32 L485.73,389.89 L486.35,390.46 L486.97,391.01 L487.6,391.52 L488.23,391.98 L488.86,392.38 L489.45,392.71 L490.06,392.94 L490.65,393.09 L491.26,393.12 L491.77,393.07 L492.35,392.88" fill="none" stroke="#1d3670" stroke-width="2.3" stroke-linecap="round"/><path d="M497.96,381.13 L498.38,380.9 L498.86,380.74 L499.36,380.68 L499.92,380.7 L500.52,380.8 L501.16,380.98 L501.83,381.21 L502.54,381.5 L503.26,381.83 L504.01,382.18 L504.76,382.55 L505.51,382.92 L506.25,383.28 L506.97,383.62 L507.67,383.92 L508.33,384.18 L508.95,384.39 L509.51,384.53" fill="none" stroke="#1d3670" stroke-width="2.3" stroke-linecap="round"/><path d="M397.66,378.76 L398.09,378.56 L398.56,378.44 L399.1,378.41 L399.67,378.47 L400.28,378.61 L400.93,378.81 L401.61,379.07 L402.32,379.39 L403.05,379.74 L403.78,380.12 L404.52,380.52 L405.26,380.91 L405.98,381.29 L406.68,381.64 L407.37,381.95 L408.01,382.22 L408.62,382.42 L409.17,382.56 L409.73,382.6 L410.2,382.58 L410.63,382.47 L411.01,382.26" fill="none" stroke="#2c7dbf" stroke-width="2.3" stroke-linecap="round"/><path d="M416.99,370.78 L417.49,370.61 L418.02,370.54 L418.59,370.56 L419.16,370.69 L419.78,370.9 L420.42,371.19 L421.08,371.55 L421.75,371.97 L422.4,372.44 L423.07,372.95 L423.72,373.48 L424.36,374.01 L424.98,374.53 L425.57,375.03 L426.17,375.48 L426.71,375.89 L427.22,376.24 L427.7,376.51 L428.14,376.71 L428.59,376.81 L429.04,376.81 L429.53,376.71" fill="none" stroke="#2c7dbf" stroke-width="2.3" stroke-linecap="round"/><path d="M439.27,368.24 L439.84,368.33 L440.39,368.54 L440.84,368.83 L441.34,369.24 L441.81,369.75 L442.25,370.34 L442.64,371.01 L443,371.73 L443.31,372.5 L443.59,373.29 L443.83,374.1 L444.03,374.9 L444.17,375.69 L444.27,376.43 L444.35,377.13 L444.42,377.77 L444.51,378.34 L444.62,378.85 L444.78,379.29 L444.99,379.65 L445.26,379.96 L445.61,380.19" fill="none" stroke="#2c7dbf" stroke-width="2.3" stroke-linecap="round"/><path d="M457.92,379.52 L458.34,379.79 L458.66,380.1 L458.99,380.54 L459.26,381.06 L459.49,381.65 L459.66,382.31 L459.8,383.03 L459.92,383.79 L460.01,384.59 L460.09,385.41 L460.17,386.24 L460.27,387.08 L460.38,387.9 L460.51,388.68 L460.69,389.43 L460.91,390.12 L461.19,390.76 L461.51,391.32 L461.9,391.79 L462.33,392.18 L462.83,392.47 L463.37,392.67" fill="none" stroke="#2c7dbf" stroke-width="2.3" stroke-linecap="round"/><path d="M474.52,386.45 L474.94,386.47 L475.37,386.58 L475.87,386.79 L476.3,387.09 L476.75,387.47 L477.21,387.93 L477.7,388.45 L478.22,389.02 L478.73,389.62 L479.26,390.25 L479.81,390.88 L480.36,391.51 L480.93,392.11 L481.51,392.67 L482.1,393.17 L482.69,393.61 L483.24,393.97 L483.83,394.24 L484.4,394.41 L484.97,394.48 L485.47,394.45 L486,394.31" fill="none" stroke="#2c7dbf" stroke-width="2.3" stroke-linecap="round"/><path d="M492.77,383.44 L493.18,383.27 L493.68,383.17 L494.17,383.18 L494.71,383.27 L495.32,383.42 L495.94,383.66 L496.6,383.95 L497.3,384.27 L498.01,384.64 L498.74,385.03 L499.48,385.42 L500.22,385.8 L500.96,386.17 L501.68,386.5 L502.39,386.78 L503.07,387 L503.71,387.17 L504.33,387.24 L504.9,387.24 L505.42,387.15 L505.89,386.97 L506.32,386.7" fill="none" stroke="#2c7dbf" stroke-width="2.3" stroke-linecap="round"/>
<defs><linearGradient id="ag0" gradientUnits="userSpaceOnUse" x1="140" y1="53.2" x2="185.3" y2="77.5"><stop offset="0" stop-color="#111" stop-opacity="0"/><stop offset="0.55" stop-color="#111" stop-opacity="1"/></linearGradient><linearGradient id="ag1" gradientUnits="userSpaceOnUse" x1="204.4" y1="189.3" x2="80.3" y2="234.8"><stop offset="0" stop-color="#111" stop-opacity="0"/><stop offset="0.55" stop-color="#111" stop-opacity="1"/></linearGradient><linearGradient id="ag2" gradientUnits="userSpaceOnUse" x1="57.6" y1="286.5" x2="56.9" y2="346.3"><stop offset="0" stop-color="#111" stop-opacity="0"/><stop offset="0.55" stop-color="#111" stop-opacity="1"/></linearGradient><linearGradient id="ag3" gradientUnits="userSpaceOnUse" x1="83.5" y1="402.3" x2="227.8" y2="442.4"><stop offset="0" stop-color="#111" stop-opacity="0"/><stop offset="0.55" stop-color="#111" stop-opacity="1"/></linearGradient><linearGradient id="ag4" gradientUnits="userSpaceOnUse" x1="326.4" y1="439.1" x2="355.6" y2="407.6"><stop offset="0" stop-color="#111" stop-opacity="0"/><stop offset="0.55" stop-color="#111" stop-opacity="1"/></linearGradient><linearGradient id="ag5" gradientUnits="userSpaceOnUse" x1="340.3" y1="366.7" x2="341.8" y2="316"><stop offset="0" stop-color="#111" stop-opacity="0"/><stop offset="0.55" stop-color="#111" stop-opacity="1"/></linearGradient><linearGradient id="ag6" gradientUnits="userSpaceOnUse" x1="453.3" y1="325.6" x2="573.8" y2="322.8"><stop offset="0" stop-color="#111" stop-opacity="0"/><stop offset="0.55" stop-color="#111" stop-opacity="1"/></linearGradient><linearGradient id="ag7" gradientUnits="userSpaceOnUse" x1="608.3" y1="264" x2="561.4" y2="216.4"><stop offset="0" stop-color="#111" stop-opacity="0"/><stop offset="0.55" stop-color="#111" stop-opacity="1"/></linearGradient><linearGradient id="ag8" gradientUnits="userSpaceOnUse" x1="500.4" y1="195.4" x2="457.3" y2="170.9"><stop offset="0" stop-color="#111" stop-opacity="0"/><stop offset="0.55" stop-color="#111" stop-opacity="1"/></linearGradient><linearGradient id="ag9" gradientUnits="userSpaceOnUse" x1="485.4" y1="85.5" x2="538" y2="55.2"><stop offset="0" stop-color="#111" stop-opacity="0"/><stop offset="0.55" stop-color="#111" stop-opacity="1"/></linearGradient></defs>
<path d="M140,53.2 C160,52.5 177,63 185.3,77.5" fill="none" stroke="url(#ag0)" stroke-width="1.7"/><polygon points="188.6,83.27 181.88,78.77 188.13,75.19" fill="#111"/><path d="M204.4,189.3 C170,189.5 118,201 80.3,234.8" fill="none" stroke="url(#ag1)" stroke-width="1.7"/><polygon points="75.35,239.24 78.34,231.72 83.15,237.08" fill="#111"/><path d="M57.6,286.5 C50.5,305 50.5,330 56.9,346.3" fill="none" stroke="url(#ag2)" stroke-width="1.7"/><polygon points="59.33,352.49 53.33,347.06 60.03,344.43" fill="#111"/><path d="M83.5,402.3 C108,430 160,446 227.8,442.4" fill="none" stroke="url(#ag3)" stroke-width="1.7"/><polygon points="234.44,442.05 227.39,446.03 227.01,438.84" fill="#111"/><path d="M326.4,439.1 C345,432 355.5,422 355.6,407.6" fill="none" stroke="url(#ag4)" stroke-width="1.7"/><polygon points="355.65,400.95 359.2,408.22 352,408.17" fill="#111"/><path d="M340.3,366.7 C331.5,350 332,328 341.8,316" fill="none" stroke="url(#ag5)" stroke-width="1.7"/><polygon points="346.01,310.85 344.21,318.74 338.63,314.19" fill="#111"/><path d="M453.3,325.6 C490,334 540,338 573.8,322.8" fill="none" stroke="url(#ag6)" stroke-width="1.7"/><polygon points="579.86,320.07 574.73,326.33 571.78,319.76" fill="#111"/><path d="M608.3,264 C603,245 590,224 561.4,216.4" fill="none" stroke="url(#ag7)" stroke-width="1.7"/><polygon points="554.97,214.69 562.9,213.07 561.06,220.03" fill="#111"/><path d="M500.4,195.4 C480,194.5 465,184 457.3,170.9" fill="none" stroke="url(#ag8)" stroke-width="1.7"/><polygon points="453.93,165.17 460.71,169.59 454.5,173.24" fill="#111"/><path d="M485.4,85.5 C498,68 515,57 538,55.2" fill="none" stroke="url(#ag9)" stroke-width="1.7"/><polygon points="544.63,54.68 537.68,58.84 537.12,51.66" fill="#111"/>
<defs><filter id="hb" x="-20%" y="-40%" width="140%" height="180%"><feGaussianBlur stdDeviation="2.5"/></filter></defs>
<g filter="url(#hb)" fill="#fff" opacity="0.13"><rect x="103" y="102" width="72" height="29" rx="4"/><rect x="231" y="167" width="67" height="28" rx="4"/><rect x="61" y="297" width="97" height="35" rx="4"/><rect x="346" y="314" width="100" height="29" rx="4"/><rect x="367" y="408" width="89" height="29" rx="4"/><rect x="570" y="338" width="91" height="29" rx="4"/><rect x="599" y="213" width="84" height="29" rx="4"/><rect x="502" y="112" width="76" height="29" rx="4"/><rect x="453" y="26" width="74" height="29" rx="4"/><rect x="42" y="264" width="58" height="20" rx="4"/><rect x="42" y="376" width="58" height="20" rx="4"/><rect x="497" y="244" width="61" height="34" rx="4"/></g>
<circle cx="117.8" cy="116.7" r="9.4" fill="#fff" stroke="#1a1a1a" stroke-width="1.2"/><text x="117.8" y="120.5" text-anchor="middle" font-size="10.5" font-weight="bold" fill="#1a1a1a">1</text>
<text x="133.1" y="119.7" font-size="11" font-weight="bold" fill="#252830" textLength="37.3" lengthAdjust="spacingAndGlyphs">Binding</text>
<circle cx="245.3" cy="181" r="9.4" fill="#fff" stroke="#1a1a1a" stroke-width="1.2"/><text x="245.3" y="184.8" text-anchor="middle" font-size="10.5" font-weight="bold" fill="#1a1a1a">2</text>
<text x="260.6" y="184" font-size="11" font-weight="bold" fill="#252830" textLength="32.5" lengthAdjust="spacingAndGlyphs">Fusion</text>
<circle cx="75.3" cy="312" r="9.4" fill="#fff" stroke="#1a1a1a" stroke-width="1.2"/><text x="75.3" y="315.8" text-anchor="middle" font-size="10.5" font-weight="bold" fill="#1a1a1a">3</text>
<text x="90.6" y="311.8" font-size="11" font-weight="bold" fill="#252830" textLength="39.2" lengthAdjust="spacingAndGlyphs">Reverse</text>
<circle cx="360.3" cy="328.5" r="9.4" fill="#fff" stroke="#1a1a1a" stroke-width="1.2"/><text x="360.3" y="332.3" text-anchor="middle" font-size="10.5" font-weight="bold" fill="#1a1a1a">5</text>
<text x="375.6" y="331.5" font-size="11" font-weight="bold" fill="#252830" textLength="64.8" lengthAdjust="spacingAndGlyphs">Transcription</text>
<circle cx="381.3" cy="422.2" r="9.4" fill="#fff" stroke="#1a1a1a" stroke-width="1.2"/><text x="381.3" y="426" text-anchor="middle" font-size="10.5" font-weight="bold" fill="#1a1a1a">4</text>
<text x="396.6" y="425.2" font-size="11" font-weight="bold" fill="#252830" textLength="53.8" lengthAdjust="spacingAndGlyphs">Integration</text>
<circle cx="584.7" cy="352.2" r="9.4" fill="#fff" stroke="#1a1a1a" stroke-width="1.2"/><text x="584.7" y="356" text-anchor="middle" font-size="10.5" font-weight="bold" fill="#1a1a1a">6</text>
<text x="600" y="355.2" font-size="11" font-weight="bold" fill="#252830" textLength="55" lengthAdjust="spacingAndGlyphs">Translation</text>
<circle cx="613.3" cy="227.5" r="9.4" fill="#fff" stroke="#1a1a1a" stroke-width="1.2"/><text x="613.3" y="231.3" text-anchor="middle" font-size="10.5" font-weight="bold" fill="#1a1a1a">7</text>
<text x="628.6" y="230.5" font-size="11" font-weight="bold" fill="#252830" textLength="48.5" lengthAdjust="spacingAndGlyphs">Assembly</text>
<circle cx="516.9" cy="126.3" r="9.4" fill="#fff" stroke="#1a1a1a" stroke-width="1.2"/><text x="516.9" y="130.1" text-anchor="middle" font-size="10.5" font-weight="bold" fill="#1a1a1a">8</text>
<text x="532.2" y="129.3" font-size="11" font-weight="bold" fill="#252830" textLength="40.5" lengthAdjust="spacingAndGlyphs">Budding</text>
<circle cx="467.6" cy="40.6" r="9.4" fill="#fff" stroke="#1a1a1a" stroke-width="1.2"/><text x="467.6" y="44.4" text-anchor="middle" font-size="10.5" font-weight="bold" fill="#1a1a1a">9</text>
<text x="482.9" y="43.6" font-size="11" font-weight="bold" fill="#252830" textLength="38.5" lengthAdjust="spacingAndGlyphs">Release</text>
<text x="90.6" y="325.6" font-size="11" font-weight="bold" fill="#252830" textLength="62.4" lengthAdjust="spacingAndGlyphs">transcription</text>
<text x="36.1" y="143" font-size="11"  fill="#2a2a2e" textLength="43.2" lengthAdjust="spacingAndGlyphs">Receptor</text>
<text x="48" y="277.4" font-size="10.5"  fill="#3c3c40" textLength="46" lengthAdjust="spacingAndGlyphs">Viral RNA</text>
<text x="48.1" y="389.4" font-size="10.5"  fill="#3c3c40" textLength="46" lengthAdjust="spacingAndGlyphs">Viral DNA</text>
<text x="503.3" y="257.6" font-size="10.5"  fill="#3c3c40" textLength="48.8" lengthAdjust="spacingAndGlyphs">Virus core</text>
<text x="506" y="271.8" font-size="10.5"  fill="#3c3c40" textLength="42.6" lengthAdjust="spacingAndGlyphs">structure</text>
<text x="655.8" y="183.2" font-size="10.5"  fill="#566e9a" textLength="51.3" lengthAdjust="spacingAndGlyphs">Cytoplasm</text>
<text x="338.9" y="263.75" font-size="10.5"  fill="#4d6fa8" textLength="39.6" lengthAdjust="spacingAndGlyphs">Nucleus</text>
</svg></body></html>
